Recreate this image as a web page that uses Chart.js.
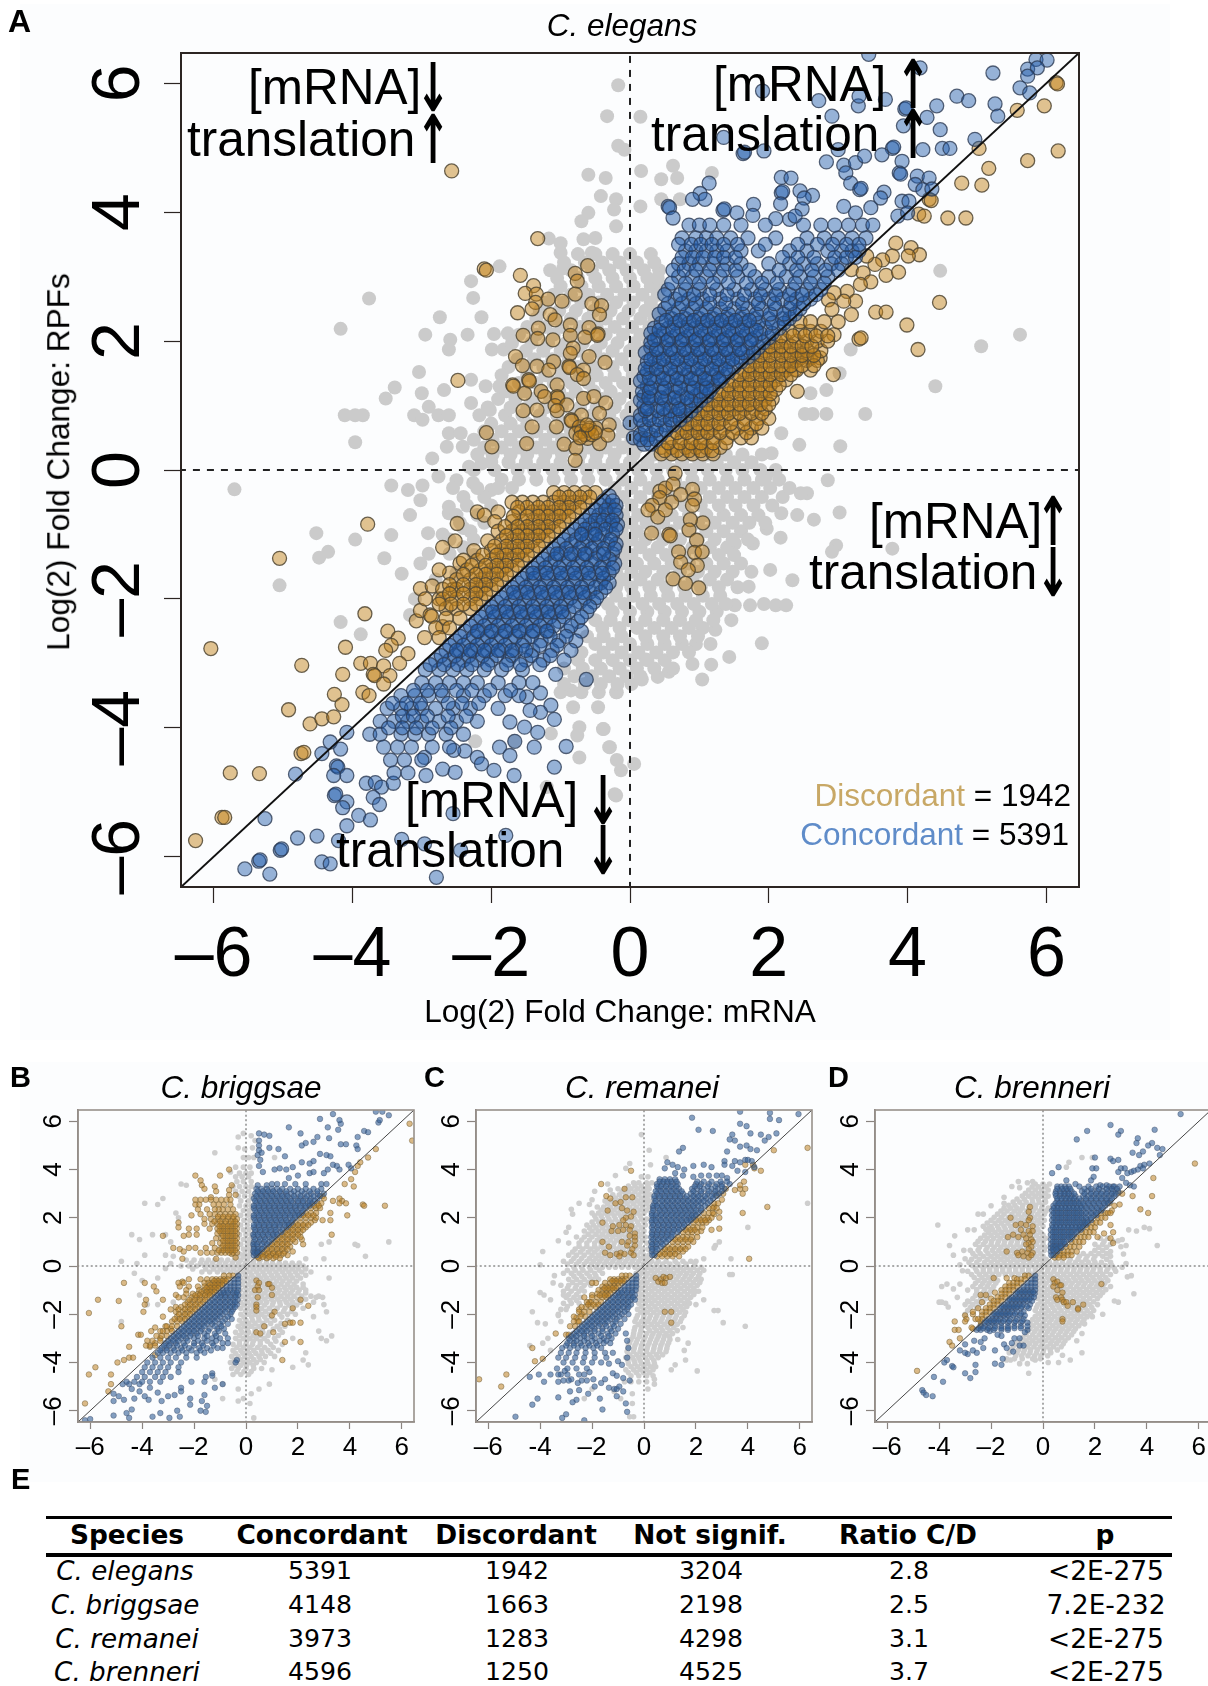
<!DOCTYPE html>
<html><head><meta charset="utf-8">
<script src="https://cdn.jsdelivr.net/npm/chart.js@4"></script>
<style>
html,body{margin:0;padding:0;background:#fff;width:1208px;height:1686px;overflow:hidden;position:relative}
canvas{position:absolute}
.t{position:absolute;white-space:nowrap;font-family:"Liberation Sans",Arial,sans-serif;color:#000}
.bg{position:absolute;background:#fcfdfe}
</style></head><body>
<div class="bg" style="left:20px;top:4px;width:1150px;height:1036px"></div>
<div class="bg" style="left:20px;top:1062px;width:1188px;height:420px"></div>
<script>
// ---------- table / axis values ----------
const species=["C. elegans","C. briggsae","C. remanei","C. brenneri"];
const concordant=[5391,4148,3973,4596];
const discordant=[1942,1663,1283,1250];
const notSignif=[3204,2198,4298,4525];
const ratioCD=["2.8","2.5","3.1","3.7"];
const pValues=["<2E-275","7.2E-232","<2E-275","<2E-275"];
const tableHeaders=["Species","Concordant","Discordant","Not signif.","Ratio C/D","p"];
const tickValues=[-6,-4,-2,0,2,4,6];
const tickLabelsA=["–6","–4","–2","0","2","4","6"];
const tickLabelsSmall=["–6","-4","–2","0","2","4","6"];
const diagonalEnds=[-6.5,6.5];
const axisZero=[0,0];

// ---------- Panel A: C. elegans (loose points: x,y,x,y...; rows: [y, x, x, ...]) ----------
const elegansGrayLoose=[-.17,5.97,-.33,5.49,-.17,5.03,-.08,4.97,-.6,4.58,-.35,4.53,-.42,4.25,-.2,4.2,-.23,4.04,-.6,3.99,-.7,3.86,-.2,3.78,-1.17,3.59,-1,3.52,-1,3.37,-.67,3.58,-.5,3.6,-.55,3.37,-.96,3.13,-1.88,3.16,-2.29,2.93,-2.26,2.67,-3.76,2.66,-4.17,2.19,-2.74,2.37,-2.14,2.37,-2.95,2.1,-2.34,2.1,-1.96,2.11,-1.76,2.12,-2.59,2.02,-2.61,1.87,-1.99,1.87,-1.82,1.87,-3.04,1.52,-3.39,1.28,-3.52,1.11,-3,1.19,-2.68,1.24,-2.29,1.4,-2.08,1.3,-1.88,1.3,-4.11,.85,-3.96,.85,-3.85,.85,-3.96,.43,-3.11,.85,-2.99,.78,-2.9,.98,-2.76,.85,-2.61,.85,-2.29,1.04,-2.02,.93,-2.17,.85,-2.61,.57,-2.44,.57,-2.85,.18,-2.64,.36,-2.41,.36,-2.14,.1,-2.32,.05,-3.44,-.24,-3.2,-.31,-2.99,-.24,-5.7,-.3,-2.76,-.1,-2.5,-.16,-2.26,-.2,-2,-.31,-3.02,-.47,-2.61,-.57,
3.02,-.66,2.65,-.77,2.41,-.7,2.18,-.67,1.97,-.91,2.17,-1.05,1.77,-1.14,1.51,-1.14,2.97,-1.17,2.91,-1.27,3.78,-1.22,2.02,-1.55,2.34,-1.71,1.71,-1.81,1.51,-2.1,1.73,-2.1,1.93,-2.08,2.1,-2.1,2.25,-2.1,1.46,-2.33,1.23,-2.48,1.9,-2.69,1.16,-2.7,1.43,-2.9,1.17,-3.02,.9,-3.01,1.04,-3.25,.56,-3.13,.4,-3.21,.17,-3.25,.23,-2.94,-.19,-3.45,-.39,-4.02,-.3,-4.3,-.19,-4.5,.06,-4.56,-.13,-4.66,-.22,-5.03,
-4.52,-.98,-3.96,-1.08,-4.35,-1.27,-4.48,-1.36,-5.05,-1.79,-3.44,-1.01,-3.54,-1.37,-3.29,-1.61,-3.17,-.7,-3.02,-1.45,-2.91,-.98,-2.61,-.67,-4.17,-2.36,-3.88,-2.55,-3.17,-2.25,-.2,-3.45,-.46,-3.68,-.82,-3.68,-.85,-3.42,-.38,-4.02,-.73,-3.99,-.76,-4.12,-.29,-4.3,-1.14,-4.09,-2.23,-4.21,-1.67,-4.2,-.73,-4.46,-.2,-5.05,-1.2,-4.92,
.15,5.48,.16,4.64,.62,4.72,.68,4.53,.45,4.51,1.18,4.61,.15,4.09,.45,4.2,.72,4.2,4.47,3.09,5.62,2.1,5.06,1.92,4.4,1.3,3.18,1.87,3.02,1.5,2.83,1.24,2.6,1.19,3.39,.87,2.83,.87,2.63,.87,2.52,.87,3.03,.37,2.44,.39,2.18,.57,2.04,.26,2.85,-.16,1.96,-.1,2.55,-.36,2.46,-.36,-2.7,-1,-2.4,-.9,-2.9,-1.3,-2.6,-1.3,-2.8,-1.7,-2.5,-1.6,-3.1,-2];
const elegansGrayRows=[
[3.35,-.75,-.5,-.25,0,.3],[3.1,-1.15,-.85,-.55,-.3,-.05,.2,.42],[2.85,-1,-.7,-.45,-.2,.05,.3,.45],[2.6,-1.2,-.95,-.7,-.45,-.2,.05,.3],[2.35,-1.35,-1.1,-.85,-.6,-.35,-.1,.15,.35],[2.1,-1.6,-1.35,-1.1,-.85,-.6,-.35,-.1,.15,.3],[1.85,-1.5,-1.25,-1,-.75,-.5,-.25,0,.2],[1.6,-1.75,-1.5,-1.25,-1,-.75,-.5,-.25,0,.15],[1.35,-1.6,-1.35,-1.1,-.85,-.6,-.35,-.1,.1],[1.1,-1.9,-1.65,-1.4,-1.15,-.9,-.65,-.4,-.15,.1],[.85,-1.8,-1.55,-1.3,-1.05,-.8,-.55,-.3,-.05,.12],[.6,-2.1,-1.85,-1.6,-1.35,-1.1,-.85,-.6,-.35,-.1,.12],[.35,-2.1,-1.85,-1.6,-1.35,-1.1,-.85,-.6,-.35,-.1,.1],
[.12,-2,-1.75,-1.5,-1.25,-1,-.75,-.5,-.25,0,.25,.5,.75,1,1.25,1.5,1.75],[-.15,-1.85,-1.6,-1.35,-1.1,-.85,-.6,-.35,-.1,.15,.4,.65,.9,1.15,1.4,1.65,1.9,2.15],[-.42,-2.4,-2.1,-.1,.15,.4,.65,.9,1.15,1.4,1.65,1.9,2.2],[-.7,-2.5,-2.2,-.1,.12,.35,.6,.85,1.1,1.35,1.6,1.85],[-.95,-2.3,-.12,.1,.35,.6,.85,1.1,1.35,1.6],[-1.2,-2.4,-.1,.15,.4,.65,.9,1.15,1.4],[-1.45,-.12,.1,.35,.6,.85,1.1,1.35,1.6],[-1.7,-.1,.15,.4,.65,.9,1.15,1.4],[-1.95,-.2,.05,.3,.55,.8,1.05,1.3],[-2.2,-.25,0,.25,.5,.75,1,1.25],[-2.45,-.4,-.15,.1,.35,.6,.85,1.05],[-2.7,-.5,-.25,0,.25,.5,.75,.95],[-2.95,-.75,-.5,-.25,0,.25,.5],[-3.2,-.8,-.55,-.3,-.05,.15],[-3.45,-1,-.7,-.45],
[3.22,-.95,-.65,-.4,-.15,.1,.35],[2.98,-1.05,-.75,-.5,-.25,0,.25,.4],[2.72,-1.1,-.85,-.6,-.33,-.08,.18,.4],[2.47,-1.3,-1.02,-.78,-.52,-.28,-.02,.22,.42],[2.22,-1.48,-1.22,-.98,-.72,-.48,-.22,.03,.28],[1.97,-1.7,-1.42,-1.18,-.92,-.68,-.42,-.18,.07,.27],[1.72,-1.62,-1.38,-1.12,-.88,-.62,-.38,-.12,.1],[1.47,-1.85,-1.48,-1.22,-.98,-.72,-.48,-.22,.04],[1.22,-1.78,-1.52,-1.28,-1.02,-.78,-.52,-.28,-.02],[.97,-2.05,-1.72,-1.48,-1.22,-.98,-.72,-.48,-.22,.02],[.72,-2,-1.72,-1.48,-1.22,-.98,-.72,-.48,-.22,.02],[.47,-2.25,-1.98,-1.72,-1.48,-1.22,-.98,-.72,-.48,-.22,.02],[.24,-2.2,-1.98,-1.72,-1.48,-1.22,-.98,-.72,-.48,-.22,.05,.35,.62,.88,1.12,1.38,1.62,1.9],[0,-2.25,-1.95,-1.62,-1.38,-1.12,-.88,-.62,-.38,-.12,.12,.38,.62,.88,1.12,1.38,1.62,1.88,2.1],[-.28,-2.55,-2.2,-1.9,-1.7,-.22,.02,.28,.52,.78,1.02,1.28,1.52,1.78,2.02,2.3],[-.55,-2.35,-2,-.2,.02,.28,.52,.78,1.02,1.28,1.52,1.78,2.05],[-.82,-2.45,-2.1,-.2,.02,.24,.48,.72,.98,1.22,1.48,1.72,1.95],[-1.08,-2.6,-2.25,-.15,.02,.22,.48,.72,.98,1.22,1.48,1.7],[-1.32,-2.25,-.12,.02,.28,.52,.78,1.02,1.28,1.5],[-1.58,-.2,.02,.22,.48,.72,.98,1.22,1.48,1.75],[-1.82,-.2,.02,.28,.52,.78,1.02,1.28,1.55],[-2.08,-.32,-.08,.18,.42,.68,.92,1.18,1.38],[-2.33,-.5,-.28,-.02,.22,.48,.72,.95,1.2],[-2.58,-.62,-.38,-.12,.22,.48,.72,.98],[-2.83,-.7,-.38,-.12,.12,.38,.62,.85],[-3.08,-.95,-.68,-.42,-.15,.1,.35,.62],[-3.32,-.95,-.65,-.42,-.18,.02]];
const elegansOrangeLoose=[-2.57,4.64,-1.33,3.59,-2.1,3.12,-2.07,3.1,-.61,3.17,-.79,3.05,-1.58,3.02,-.76,2.93,-1.39,2.86,-1.51,2.74,-1.35,2.73,-.79,2.73,-1.18,2.65,-.98,2.62,-1.36,2.6,-.55,2.58,-.41,2.55,-1.41,2.5,-1.62,2.44,-.44,2.41,-1.15,2.41,-1.08,2.33,-.86,2.25,-1.32,2.2,-.59,2.21,-1.54,2.09,-.46,2.11,-.47,2.09,-1.33,2.04,-1.11,2.02,-.86,2.09,-.65,2.06,-.82,1.89,-.86,1.81,-1.65,1.76,-.59,1.76,-1.1,1.68,-.36,1.67,-1.55,1.62,-1.34,1.61,-1.17,1.55,-.88,1.61,-.87,1.59,-.67,1.55,-.76,1.48,-.67,1.42,-1.46,1.4,-1.45,1.38,-2.48,1.39,-1.69,1.32,-1.68,1.3,-1.05,1.32,-1.52,1.19,-1.28,1.22,-1.05,1.14,-1.04,1.12,-1.23,1.14,-.67,1.11,-.52,1.14,-.35,1.04,-1.08,1,-.91,1.01,-1.54,.92,-1.34,.93,-1.05,.92,-.44,.88,-.7,.85,-.85,.78,-.84,.76,-.3,.7,-1.41,.67,-1.06,.67,-.73,.67,-.58,.65,-.49,.65,-.78,.57,-.61,.49,-.44,.41,-.32,.54,-2.07,.58,-1.49,.41,-1.99,.36,-.95,.4,-.78,.34,-.79,.15,-.7,.6,-.65,.55,-.6,.62,-.55,.55,-.5,.58,-.72,.5,-.62,.7,
.65,-.05,.9,-.3,.43,-.33,.51,-.28,.62,-.22,.73,-.38,.43,-.43,.32,-.55,.6,-.5,.93,-.45,.26,-.62,.4,-.73,.51,-.62,.9,-.55,1.05,-.82,.87,-.77,.85,-.93,.31,-.98,.56,-1,.58,-1.02,.96,-1.09,.7,-1.27,.93,-1.28,1.04,-1.27,.73,-1.43,.97,-1.48,.84,-1.55,.62,-1.69,.8,-1.76,.99,-1.83,
6.17,4.95,5.73,4.8,5.97,5.65,6.14,6.01,6.16,5.99,5.58,5.58,5.03,4.99,5.17,4.68,4.78,4.45,5.07,4.42,4.31,4.2,4.34,4.18,4.16,3.97,4.24,3.94,4.58,3.91,4.84,3.91,3.83,3.52,4.05,3.45,4.17,3.34,4.01,3.32,3.78,3.32,3.64,3.26,3.53,3.19,3.41,3.32,3.19,3.11,3.36,3.06,3.69,3.02,3.87,3.07,3.47,2.92,3.32,2.88,3.13,2.77,3.25,2.62,3.08,2.62,2.94,2.75,2.86,2.64,2.91,2.49,3.19,2.41,3.54,2.45,3.69,2.45,4.46,2.6,3.99,2.25,3.3,2.03,3.33,2.05,4.15,1.87,2.94,2.1,2.93,1.48,2.41,1.22,2.38,1.56,2.46,1.74,2.6,1.74,2.74,1.74,
-3.78,-.84,-5.05,-1.37,-2.49,-.83,-6.04,-2.77,-4.73,-3.03,-4.1,-2.75,-4.14,-3.17,-3.82,-2.23,-3.02,-1.84,-3.49,-2.5,-3.34,-2.61,-3.44,-2.72,-3.52,-2.8,-3.2,-2.85,-3.08,-2.34,-3.02,-2.18,-2.88,-2.25,-2.86,-2.27,-2.7,-2.43,-2.96,-2.6,-3.88,-3,-3.74,-3,-3.55,-3.04,-3.7,-3.17,-3.68,-3.19,-3.46,-3.19,-3.32,-3,-3.85,-3.45,-4.26,-3.48,-4.15,-3.64,-3.76,-3.5,-3.55,-3.32,-4.92,-3.72,-4.61,-3.94,-4.44,-3.86,-4.27,-3.83,-4.74,-4.4,-4.7,-4.38,-5.76,-4.7,-5.34,-4.71,-5.88,-5.39,-5.84,-5.39,-6.26,-5.75,-2.7,-1.2,-2.52,-1.1,-2.2,-.65,-2.1,-.7,-2.45,-1.45,-2.6,-1.6,-2.75,-1.55,-2.85,-1.8,-2.55,-1.85,-2.75,-2,-2.95,-2];
const elegansOrangeRows=[
[.25,.45,.6,.75,.9,1.05,1.2],[.35,.45,.6,.8,.95,1.1,1.3],[.5,.6,.75,.9,1.05,1.2,1.4,1.6,1.75],[.65,.75,.9,1.05,1.2,1.35,1.55,1.75,1.9],[.8,.9,1.05,1.2,1.35,1.5,1.65,1.85,2],[.95,1.05,1.2,1.35,1.5,1.65,1.8,1.95],[1.1,1.2,1.35,1.5,1.65,1.8,1.95,2.05],[1.25,1.35,1.5,1.65,1.8,1.95,2.1],[1.4,1.5,1.65,1.8,1.95,2.1,2.25],[1.55,1.65,1.8,1.95,2.1,2.25,2.4,2.6],[1.7,1.8,1.95,2.1,2.25,2.4,2.55,2.7],[1.85,1.95,2.1,2.25,2.4,2.55,2.75],[2,2.1,2.25,2.4,2.55,2.7,2.85],[2.15,2.3,2.45,2.6,2.75],[2.3,2.45,2.6,2.8,3],
[-.35,-.5,-.65,-.8,-.95,-1.1],[-.5,-.65,-.8,-.95,-1.1,-1.25,-1.4,-1.55,-1.7],[-.65,-.8,-.95,-1.1,-1.25,-1.4,-1.6,-1.9],[-.8,-.95,-1.1,-1.25,-1.4,-1.55,-1.7,-1.95],[-.95,-1.1,-1.25,-1.4,-1.55,-1.7,-1.9],[-1.1,-1.25,-1.4,-1.55,-1.7,-1.85,-2.05],[-1.25,-1.4,-1.55,-1.7,-1.85,-2,-2.25],[-1.4,-1.55,-1.7,-1.85,-2,-2.2,-2.4],[-1.55,-1.7,-1.85,-2,-2.15,-2.35],[-1.7,-1.85,-2,-2.15,-2.3,-2.5],[-1.85,-2,-2.15,-2.3,-2.5,-2.7],[-2,-2.15,-2.3,-2.5,-2.7],[-2.15,-2.3,-2.5,-2.65],[-2.3,-2.45,-2.65],[-2.45,-2.6,-2.8],[-2.6,-2.75],
[.3,.5,.68,.85,1.02,1.18],[.42,.55,.72,.88,1.02,1.2,1.38],[.58,.68,.82,.98,1.12,1.3,1.48,1.68],[.72,.82,.98,1.12,1.28,1.45,1.65,1.82],[.88,.98,1.12,1.28,1.42,1.58,1.75,1.9],[1.02,1.12,1.28,1.42,1.58,1.72,1.88,2],[1.18,1.28,1.42,1.58,1.72,1.88,2.02],[1.32,1.42,1.58,1.72,1.88,2.02,2.15],[1.48,1.58,1.72,1.88,2.02,2.18,2.32],[1.62,1.72,1.88,2.02,2.18,2.32,2.48,2.65],[1.78,1.88,2.02,2.18,2.32,2.48,2.65],[1.92,2.02,2.18,2.32,2.48,2.62],[2.08,2.18,2.35,2.52,2.68,2.85],
[-.42,-.58,-.72,-.88,-1.02],[-.58,-.72,-.88,-1.02,-1.18,-1.32,-1.48,-1.62],[-.72,-.88,-1.02,-1.18,-1.32,-1.48,-1.68],[-.88,-1.02,-1.18,-1.32,-1.48,-1.62,-1.8],[-1.02,-1.18,-1.32,-1.48,-1.62,-1.78],[-1.18,-1.32,-1.48,-1.62,-1.78,-1.95],[-1.32,-1.48,-1.62,-1.78,-1.92,-2.12],[-1.48,-1.62,-1.78,-1.92,-2.08,-2.28],[-1.62,-1.78,-1.92,-2.08,-2.22,-2.4],[-1.78,-1.92,-2.08,-2.22,-2.4,-2.6],[-1.92,-2.08,-2.22,-2.4,-2.6],[-2.08,-2.22,-2.4,-2.58,-2.75]];
const elegansBlueLoose=[3.44,6.45,4.18,6.24,5.23,6.16,5.85,6.37,6.01,6.36,5.73,6.22,5.87,6.24,5.73,6.11,5.62,5.93,5.76,5.85,4.71,5.8,4.88,5.73,5.26,5.68,5.3,5.49,4.42,5.65,3.96,5.6,3.98,5.62,3.68,5.75,3.29,5.65,3.3,5.8,2.72,5.73,1.91,5.88,2.91,5.49,4.28,5.47,3.94,5.34,4.47,5.28,4.97,5.13,4.5,4.99,4.61,4.99,4.22,4.97,3.78,4.99,3.8,5.01,3.63,4.89,3.92,4.79,1.35,5.16,1.63,4.91,1.65,4.93,1.93,4.95,3,4.97,2.83,4.78,3.08,4.73,3.25,4.77,3.38,4.87,3.11,4.61,3.88,4.61,3.9,4.59,4.14,4.56,4.31,4.53,2.18,4.54,2.32,4.53,3.18,4.45,3.31,4.35,3.33,4.37,4.11,4.43,4.22,4.35,4.35,4.36,1.14,4.45,2.18,4.3,2.2,4.32,2.45,4.33,2.63,4.26,1.01,4.29,1.08,4.2,.9,4.2,3.66,4.31,3.61,4.22,3.92,4.17,4.02,4.17,.55,4.09,.57,4.07,2.17,4.13,2.51,4.22,2.48,4.05,1.78,4.12,1.34,4.03,1.36,4.05,1.54,3.99,1.77,3.95,.62,3.91,2.1,3.9,2.3,3.89,2.38,3.94,3.08,4.09,3.25,3.99,3.47,4.07,3.86,3.94,4,3.99,0,.73,.05,.5,
-.63,-3.25,-1.07,-3.17,-1.29,-3.46,-1.49,-3.52,-1.14,-3.65,-1.29,-3.76,-1.09,-3.87,-1.44,-3.73,-1.73,-3.91,-1.52,-3.99,-1.33,-4.07,-.92,-4.29,-1.38,-4.3,-1.66,-4.21,-1.88,-4.3,-1.73,-4.43,-2.38,-4.36,-2.54,-4.35,-2.2,-4.46,-2.14,-4.56,-1.09,-4.61,-1.96,-4.66,-2.7,-4.64,-2.52,-4.69,-2.94,-4.74,-1.67,-4.74,-2.96,-4.46,-4.08,-4.07,-4.17,-4.33,-4.32,-4.22,-4.44,-4.4,-4.23,-4.59,-4.21,-4.61,-4.27,-4.74,-4.08,-4.74,-4.82,-4.72,-4.26,-5.05,-4.24,-5.03,-4.08,-5.15,-4.14,-5.24,-3.8,-4.86,-3.67,-4.85,-3.58,-4.92,-3.7,-5.08,-3.61,-5.19,-3.41,-4.86,-2.55,-5.33,-3.91,-5.36,-3.74,-5.43,-5.26,-5.41,-4.08,-5.52,-4.79,-5.71,-4.51,-5.68,-4.2,-5.75,-3.29,-5.73,-2.96,-5.8,-2.44,-5.9,-1.79,-5.67,-5.04,-5.9,-5.02,-5.88,-5.35,-6.07,-5.33,-6.05,-5.55,-6.19,-4.44,-6.08,-4.32,-6.11,-5.19,-6.27,-2.79,-6.32];
const elegansBlueRows=[
[.4,.2,.3],[.55,.15,.3,.45],[.7,.2,.35,.5,.62],[.85,.15,.3,.5,.65,.8],[1,.2,.4,.6,.8,.95],[1.15,.2,.35,.55,.75,.95,1.1],[1.3,.25,.45,.65,.85,1.05,1.2],[1.45,.2,.4,.6,.8,1,1.2,1.35],[1.6,.3,.5,.7,.9,1.1,1.3,1.5],[1.75,.35,.55,.75,.95,1.15,1.35,1.55,1.7],[1.9,.3,.5,.7,.9,1.1,1.3,1.5,1.7,1.85],[2.05,.4,.6,.8,1,1.2,1.4,1.6,1.8,2],[2.2,.35,.55,.75,.95,1.15,1.35,1.55,1.75,1.95,2.15],[2.35,.6,.8,1,1.2,1.4,1.6,1.8,2,2.2,2.3],[2.5,.5,.7,.9,1.1,1.3,1.5,1.7,1.9,2.1,2.3,2.45],[2.65,.65,.85,1.05,1.3,1.55,1.8,2,2.2,2.4,2.6],[2.8,.55,.8,1,1.25,1.5,1.75,1.95,2.15,2.35,2.55,2.75],[3,.7,.9,1.1,1.3,1.55,1.8,2,2.25,2.45,2.65,2.85],[3.2,.7,.85,1,1.2,1.4,1.6,2,2.3,2.5,2.7,2.9,3.05],[3.4,.8,.95,1.1,1.25,1.4,1.6,1.85,2.3,2.55,2.85,3.05,3.2,3.3],[3.6,.75,.95,1.1,1.25,1.45,1.7,2.1,2.55,2.8,3,3.2,3.4],[3.8,.85,1,1.15,1.35,1.6,1.95,2.5,2.75,2.95,3.15,3.35,3.5],
[.47,.15,.25,.38],[.62,.22,.38,.52],[.78,.15,.28,.42,.58,.72],[.92,.22,.4,.58,.72,.88],[1.08,.15,.3,.5,.7,.88,1.02],[1.22,.18,.28,.48,.65,.88,1.02,1.15],[1.38,.15,.35,.55,.75,.95,1.12,1.3],[1.52,.25,.45,.65,.85,1.05,1.25,1.42],[1.68,.25,.42,.62,.82,1.02,1.22,1.42,1.6],[1.82,.22,.42,.62,.82,1.02,1.22,1.42,1.62,1.78],[1.98,.3,.52,.72,.92,1.12,1.32,1.52,1.72,1.92],[2.12,.3,.48,.68,.88,1.08,1.28,1.48,1.68,1.88,2.05],[2.28,.45,.65,.85,1.05,1.25,1.45,1.65,1.85,2.05,2.22],[2.42,.42,.62,.82,1.02,1.22,1.42,1.62,1.82,2.02,2.22,2.38],[2.58,.55,.75,.95,1.15,1.38,1.62,1.85,2.08,2.32,2.5],[2.72,.5,.72,.92,1.15,1.4,1.65,1.88,2.1,2.3,2.48,2.68],[2.9,.6,.8,1,1.2,1.42,1.68,1.9,2.12,2.38,2.6,2.8],[3.1,.62,.78,.95,1.15,1.35,1.52,1.72,2.15,2.4,2.62,2.82,3],[3.3,.75,.9,1.05,1.22,1.35,1.52,2.2,2.42,2.65,2.95,3.12,3.25],[3.5,.7,.88,1.02,1.18,1.35,1.55,1.95,2.42,2.7,2.92,3.12,3.3],
[.95,.25,.48,.7],[1.12,.27,.45,.65,.82],[1.27,.3,.5,.72,.92,1.1],[1.42,.28,.48,.68,.88,1.08,1.28],[1.57,.22,.38,.58,.78,.98,1.18,1.38],[1.72,.3,.48,.68,.88,1.08,1.28,1.48],[1.87,.38,.58,.78,.98,1.18,1.38,1.58],[2.02,.35,.55,.75,.95,1.15,1.35,1.55,1.75],[2.17,.42,.62,.82,1.02,1.22,1.42,1.62,1.82],[2.32,.52,.72,.92,1.12,1.32,1.52,1.72],
[-.4,-.3],[-.55,-.42,-.3,-.2],[-.7,-.58,-.45,-.32,-.2],[-.85,-.72,-.58,-.42,-.28,-.18],[-1,-.88,-.7,-.55,-.4,-.25],[-1.15,-1.02,-.85,-.68,-.5,-.32,-.2],[-1.3,-1.18,-1,-.8,-.62,-.45,-.25],[-1.45,-1.32,-1.15,-.95,-.75,-.55,-.38,-.22],[-1.6,-1.48,-1.3,-1.1,-.9,-.7,-.5,-.3],[-1.75,-1.62,-1.42,-1.22,-1.02,-.82,-.62,-.42,-.3],[-1.9,-1.78,-1.58,-1.38,-1.18,-.98,-.78,-.58,-.42],[-2.05,-1.92,-1.72,-1.52,-1.32,-1.12,-.92,-.72,-.52],[-2.2,-2.08,-1.88,-1.68,-1.48,-1.28,-1.08,-.88,-.62],[-2.35,-2.22,-2.02,-1.82,-1.62,-1.42,-1.22,-1.02,-.75],[-2.5,-2.38,-2.18,-1.98,-1.78,-1.58,-1.38,-1.18,-.9,-.7],[-2.65,-2.52,-2.32,-2.12,-1.92,-1.72,-1.52,-1.28,-1.02,-.78],[-2.8,-2.65,-2.45,-2.25,-2.05,-1.85,-1.65,-1.4,-1.12,-.85],[-2.95,-2.8,-2.6,-2.4,-2.2,-2,-1.75,-1.5,-1.25,-.95],[-3.1,-2.95,-2.75,-2.55,-2.35,-2.1,-1.85,-1.55],
[-.48,-.38,-.25],[-.62,-.5,-.35,-.22],[-.78,-.65,-.5,-.38,-.25],[-.92,-.8,-.65,-.5,-.35,-.2],[-1.08,-.95,-.78,-.62,-.45,-.28],[-1.22,-1.1,-.92,-.72,-.55,-.38,-.22],[-1.38,-1.25,-1.08,-.88,-.68,-.5,-.3],[-1.52,-1.4,-1.22,-1.02,-.82,-.62,-.42,-.25],[-1.68,-1.55,-1.38,-1.18,-.98,-.78,-.58,-.38],[-1.82,-1.7,-1.5,-1.3,-1.1,-.9,-.7,-.5,-.35],[-1.98,-1.85,-1.65,-1.45,-1.25,-1.05,-.85,-.65,-.48],[-2.12,-2,-1.8,-1.6,-1.4,-1.2,-1,-.8,-.58],[-2.28,-2.15,-1.95,-1.75,-1.55,-1.35,-1.15,-.95,-.7],[-2.42,-2.3,-2.1,-1.9,-1.7,-1.5,-1.3,-1.1,-.85],[-2.58,-2.45,-2.25,-2.05,-1.85,-1.65,-1.42,-1.15,-.92],[-2.72,-2.6,-2.4,-2.2,-2,-1.8,-1.55,-1.3,-1.05],[-2.88,-2.72,-2.52,-2.32,-2.12,-1.92,-1.7,-1.42,-1.15],[-3.02,-2.88,-2.68,-2.48,-2.28,-2.05,-1.78,-1.58,-1.3],
[-1,-.7,-.5],[-1.3,-1.05,-.85,-.65,-.38],[-1.6,-1.4,-1.2,-1,-.8,-.6,-.4],[-1.9,-1.68,-1.48,-1.28,-1.08,-.88,-.68],[-2.2,-1.98,-1.78,-1.58,-1.38,-1.18,-.98],[-2.5,-2.2,-2,-1.8,-1.6,-1.4,-1.2],[-2.8,-2.5,-2.3,-2.1,-1.9,-1.7,-1.5],
[-3.3,-3,-2.8,-2.6,-2.4,-2.2,-1.9,-1.6,-1.4],[-3.5,-3.3,-3.1,-2.9,-2.7,-2.4,-2.1,-1.8,-1.6],[-3.7,-3.5,-3.3,-3.15,-3,-2.8,-2.55,-2.3,-1.9],[-3.9,-3.6,-3.4,-3.2,-3,-2.75,-2.5,-2.2],[-4.1,-3.75,-3.6,-3.3,-3.1,-2.9,-2.65,-2.4],[-4.3,-3.55,-3.35,-3.15,-2.85,-2.6],[-4.5,-3.45,-3.25,-3],[-4.7,-3.4,-3.2],[-3.42,-3.12,-2.92,-2.72,-2.5,-2.28,-2.02,-1.72],[-3.62,-3.42,-3.22,-3.02,-2.62,-2.42,-2.18],[-3.82,-3.28,-3.12,-2.92,-2.62,-2.36],[-4,-3.48,-3.28,-3.08,-2.85,-2.58]];

// ---------- Panel B: C. briggsae ----------
const briggsaeGrayLoose=[-.3,5.35,-.1,5.5,.2,5.4,.35,5.2,-.3,4.9,-.05,4.85,.25,4.9,-1.2,4.7,1.1,4.5,-.6,3.9,-.4,4.1,-2.5,3.4,-2.3,3.35,-3.2,2.8,-3.9,2.6,-3.4,2.55,-2.7,2.2,-2.6,2,-4.4,1.3,-4.1,1.1,-3.6,1.3,-3.1,1.3,-2.9,1,-3.9,.45,-3.1,.45,-2.8,.4,-4.8,.2,-4.3,-.3,-4.2,.1,-4,-.6,-3.4,-.5,-3.1,-.1,-2.9,.1,-4.1,-1.2,-3.8,-1.6,-3.4,-1.6,-4.8,-2.3,-2.8,-1.5,5.5,1,4.6,.4,4.2,.9,4.3,.85,3.2,1,2.9,.9,3,.3,2.3,.3,3.2,-.5,3.3,-2.9,3.1,-3.1,2.9,-3,2.8,-2.7,2.6,-2.1,3,-1.6,3.1,-1.9,2.7,-1.3,2.95,-1.3,2.3,-3.6,2.2,-3.9,2.4,-4.1,1.8,-4.2,1,-4.3,.9,-4.9,.5,-5.1,.2,-5.3,-.3,-5.6,-.1,-5.5,.15,-5.7,.3,-6.3,-.9,-5.5,-.9,-4.9,-.3,-5.1,-1.2,-4.7];
const briggsaeGrayRows=[[4.5,-.1,.1,.3],[4.1,-.1,.15],[3.7,-.4,-.15,.1],[3.3,-.5,-.25,0,.2],[2.9,-.3,-.05,.2],[2.5,-.25,0,.2],[2.1,-.2,.05,.2],[1.7,-.2,.05],[1.3,-.25,0,.2],[.9,-.2,.05,.2],[.5,-.25,-.05,.15],[.25,-2.3,-2,-1.7,-1.45,-1.2,-.95,-.7,-.45,-.2,.05,.3,.55,.8],[0,-2.5,-2.2,-1.9,-1.6,-1.35,-1.1,-.85,-.6,-.35,-.1,.15,.4,.65,.9,1.15,1.4,1.65,1.9,2.2],[-.25,-1.7,-1.4,-1.1,-.85,-.6,-.35,-.1,.15,.4,.65,.9,1.15,1.4,1.65,1.9,2.15,2.5],[-.5,-.2,.05,.3,.55,.8,1.05,1.3,1.55,1.8,2.1],[-.75,-.15,.1,.35,.6,.85,1.1,1.35,1.6,1.85,2.2],[-1,-.2,.05,.3,.55,.8,1.05,1.3,1.55,1.8,2.05,2.3],[-1.25,-.15,.1,.35,.6,.85,1.1,1.35,1.6,1.85,2.15,2.5,2.8],[-1.5,-.2,.05,.3,.55,.8,1.05,1.3,1.55,1.8,2.1,2.6],[-1.75,-.2,.05,.3,.6,.9,1.2,1.5,1.8,2.2],[-2,-.2,.1,.35,.6,.9,1.3,1.6,1.9],[-2.25,-.25,0,.25,.5,.8,1.1,1.6],[-2.5,-.3,-.05,.2,.5,.75,1.2,1.5],[-2.75,-.4,-.15,.1,.35,.65,.9,1.4],[-3,-.4,-.1,.15,.4,.7,1.1,1.8],[-3.25,-.5,-.25,0,.25,.55,.95,1.4],[-3.5,-.5,-.2,.05,.3,.6,.85,1.25],[-3.75,-.55,-.3,-.05,.2,.5,.75,1.1],[-4,-.6,-.35,-.1,.15,.4,.7],[-4.25,-.55,-.3,0,.3,.6],[-4.5,-.5,-.2,.1],
[3.85,-.25,0,.2],[3.5,-.35,-.1,.2],[3.1,-.4,-.15,.1],[2.7,-.2,.1],[2.3,-.1,.12],[1.9,-.08,.15],[1.5,-.1,.12],[1.1,-.1,.12],[.7,-.1,.1],[.38,-.35,-.1,.12,.42,.68],[.12,-2.1,-1.75,-1.52,-1.28,-1.02,-.78,-.52,-.28,-.02,.28,.52,.78,1.02,1.28,1.52,1.78,2.05],[-.12,-2.05,-1.55,-1.25,-.98,-.72,-.48,-.22,.02,.28,.52,.78,1.02,1.28,1.52,1.78,2.02,2.3],[-.38,-.25,-.02,.22,.48,.72,.98,1.22,1.48,1.72,1.98,2.3],[-.62,-.08,.18,.42,.68,.92,1.18,1.42,1.68,1.95],[-.88,-.02,.22,.48,.72,.98,1.22,1.48,1.72,1.95,2.2],[-1.12,-.02,.22,.48,.72,.98,1.22,1.48,1.72,2,2.3],[-1.38,-.02,.22,.48,.72,.98,1.22,1.48,1.72,2,2.3],[-1.62,-.08,.18,.42,.72,1.02,1.32,1.65,1.95],[-1.88,-.02,.22,.48,.75,1.05,1.45,1.75],[-2.12,-.08,.22,.48,.72,.98,1.38],[-2.38,-.15,.1,.35,.65,.95,1.35],[-2.62,-.2,.05,.35,.62,1.05,1.3],[-2.88,-.25,.02,.28,.55,.85,1.25],[-3.12,-.25,.02,.28,.55,.82,1.15],[-3.38,-.35,-.1,.15,.45,.72,1.05],[-3.62,-.4,-.12,.12,.38,.62,.95],[-3.88,-.45,-.2,.05,.3,.55],[-4.12,-.45,-.2,.02,.28],[-4.38,-.35,-.08,.2]];
const briggsaeOrangeLoose=[-.65,4,-1,3.75,-1.95,3.75,-1.75,3.55,-.55,3.35,-1.2,3.3,-1.7,3.35,-1.6,3.2,-.65,3.15,-1.15,3.1,-1.35,2.85,-.65,2.95,-.4,2.95,-2.1,2.1,-2.6,1.8,-2.6,1.6,-1.9,1.3,-2.2,1.3,-2.4,1.25,-3.2,1.25,-2.8,.75,-2.55,.7,-2.4,.6,-2.45,.3,-1.15,.3,-.55,.5,-.4,.35,-4.7,-.7,-3.9,-.7,-3.55,-.85,-3.45,-1.05,-2.45,-.65,-2.7,-1.2,-3.2,-1.4,-3.85,-1.4,-5.7,-1.4,-4.9,-1.45,-6.05,-1.95,-3.9,-1.6,-3.95,-1.9,-4.8,-2.5,-3.2,-2.1,-3.1,-2.5,-2.9,-1.8,-3.5,-2.55,-3.65,-2.7,-2.9,-2.6,-4.15,-2.85,-4.05,-2.85,-3.3,-3,-3.5,-3.2,-3.7,-3.35,-4.5,-3.35,-3.5,-3.7,-4.95,-4,-4.7,-3.9,-4.5,-3.8,-4.35,-3.8,-5.8,-4.2,-6.05,-4.5,-5.2,-4.5,-5.2,-4.9,-5.3,-5.2,-6.2,-5.7,
.4,-.6,.5,-.7,.45,-.85,.85,-.75,.9,-.75,.35,-1,.5,-1,1,-1.2,1,-.9,.45,-1.3,.4,-1.6,.4,-1.7,.4,-1.85,2.1,-1.4,1.8,-1.75,2.4,-1.65,1.1,-1.9,1,-2.05,.7,-2.5,.4,-2.75,.55,-2.8,1.05,-2.75,1.5,-2.4,1.7,-2.35,1.8,-2.35,2.1,-2.35,1.5,-3.15,2.1,-3.15,1.4,-3.9,
6.4,5.2,6.3,5.9,5,4.85,4.7,4.5,4.4,4.3,4.3,4.15,4.2,3.9,4.15,3.3,4.05,3.6,3.8,3.4,3.7,2.7,3.6,2.6,3.9,2.1,4.5,2.55,3.85,2.6,4.55,2.5,5.35,2.5,3.6,2.8,3.35,2.7,2.95,2.9,3.25,2.2,3.25,1.9,3.3,1.3,2.65,1.9,2.95,1.9,2.2,.9,2.15,1.1];
const briggsaeOrangeRows=[[2.8,3],[2.6,2.75,2.9],[2.4,2.5,2.7,2.85],[2.2,2.3,2.5,2.7],[2,2.1,2.3,2.5,2.7],[1.8,1.9,2.1,2.3,2.5],[1.6,1.7,1.9,2.1,2.3],[1.4,1.5,1.7,1.9,2.1],[1.2,1.3,1.5,1.7,1.9,2.1],[1,1.1,1.3,1.5,1.7,1.9],[.8,.9,1.1,1.3,1.5,1.7],[.6,.7,.9,1.1,1.3,1.5,1.8],[.45,.55,.75,.95,1.15,1.35,1.6],[.32,.5,.8,1.05,1.3],
[2.5,2.62,2.8],[2.1,2.2,2.4,2.6],[1.7,1.8,2,2.2,2.4],[1.5,1.6,1.8,2,2.2],[1.3,1.4,1.6,1.8,2],[1.1,1.2,1.4,1.6,1.8],[.9,1,1.2,1.4,1.6],[.7,.8,1,1.2,1.4,1.6],[.52,.62,.85,1.05,1.25,1.45],[.38,.45,.65,.9,1.15],
[.55,-.35,-.5,-.65,-.8,-.95,-1.1,-1.3,-1.5,-1.75],[.75,-.35,-.5,-.65,-.8,-.95,-1.2,-1.55,-1.95,-2.2],[.95,-.35,-.5,-.65,-.8,-1,-1.3],[1.15,-.35,-.5,-.65,-.8,-.95,-1.15],[1.35,-.35,-.5,-.65,-.8,-.95,-1.1],[1.55,-.35,-.5,-.65,-.8,-.95,-1.1,-1.4,-1.9,-2.2],[1.75,-.35,-.5,-.65,-.8,-.95,-1.1,-1.3,-1.6],[1.95,-.35,-.5,-.7,-.9,-1.1,-1.35,-1.6],[2.15,-.4,-.6,-.8,-1,-1.2,-1.4,-1.75],[2.35,-.5,-.7,-.9,-1.05,-1.2,-1.5,-1.85],[2.55,-.6,-.85,-1.05,-1.25,-1.8,-1.95],[2.75,-.6,-.75,-.95,-1.15,-1.35,-1.55,-1.75,-1.95],
[.65,-.42,-.58,-.72,-.88,-1.05],[.85,-.42,-.58,-.72,-.88],[1.05,-.42,-.58,-.72,-.88],[1.25,-.42,-.58,-.72,-.88],[1.45,-.42,-.58,-.72,-.88,-1.02],[1.65,-.42,-.58,-.72,-.88,-1.02],[1.85,-.42,-.58,-.78,-1,-1.22],[2.05,-.48,-.68,-.88,-1.08],
[-.4,-.5,-.65,-.85],[-.55,-.7,-.85,-1,-1.15,-1.3,-1.5,-1.75,-2.2],[-.7,-.85,-1,-1.15,-1.3,-1.45,-1.6,-2.4,-2.6],[-.85,-1,-1.15,-1.3,-1.45,-1.6,-1.85,-2.2,-2.55],[-1,-1.15,-1.3,-1.45,-1.6,-1.8,-2.3],[-1.15,-1.3,-1.45,-1.65,-1.85,-2.05,-2.3],[-1.3,-1.5,-1.7,-1.9,-2.1,-2.4,-2.6],[-1.5,-1.65,-1.85,-2.05,-2.25],[-1.7,-1.85,-2.05,-2.25,-2.5,-2.7],[-1.9,-2.05,-2.25,-2.45,-2.7],[-2.1,-2.25,-2.45,-2.65],[-2.3,-2.45,-2.65,-2.85],[-2.5,-2.65,-2.85,-3.05],[-2.7,-3.3,-2.85,-3.05,-3.2],[-2.9,-3.05,-3.25,-3.45],[-3.1,-3.3,-3.6,-3.8],[-3.3,-3.5,-3.7,-3.85],
[-.62,-.78,-.92,-1.08,-1.22],[-.78,-.92,-1.08,-1.22,-1.38],[-.92,-1.08,-1.22,-1.38,-1.52],[-1.08,-1.22,-1.38,-1.52,-1.72],[-1.22,-1.4,-1.58,-1.78,-1.95],[-1.4,-1.58,-1.78,-1.98,-2.18],[-1.6,-1.75,-1.95,-2.15,-2.35],[-1.8,-1.95,-2.15,-2.35,-2.6],[-2,-2.15,-2.35,-2.58],[-2.2,-2.35,-2.55,-2.75]];
const briggsaeBlueLoose=[.5,5.5,.7,5.45,.9,5.4,1.65,5.75,2.1,5.5,.5,5.2,.5,5,.5,4.8,.45,4.6,.6,4.7,.55,4.4,.5,4.15,.65,3.9,.9,4.9,1.25,4.85,1.5,4.55,2.15,5,2.3,5.1,2.6,5.15,2.75,5.35,3.2,5.3,3.65,5.05,3.85,5.05,4.25,5,4.3,5.35,4.55,5.6,4.7,5.55,4.3,4.85,3.65,5.9,3.6,6.05,3.35,6.3,2.85,6.1,3.15,5.75,3.55,5.65,5.1,5.95,5.15,6.05,5,6.4,5.25,6.4,5.5,6.25,2.6,4.35,2.85,4.65,3.1,4.6,3.25,4.55,3.35,4.2,1.8,4.1,2.15,4.3,2.45,4.25,3.5,4.15,3.95,4.2,4.05,4.05,1.1,4,1.3,4.05,1.55,4,1.65,3.65,2,3.75,2.45,3.85,2.6,3.9,3,3.85,3.15,4,3.6,4,.45,3.35,.8,3.35,
-.35,-3.9,-.4,-4,-1.3,-4.45,-1.3,-4.55,-1.55,-4.6,-2.1,-4.8,-1.6,-4.8,-.9,-4.9,-1.2,-5.05,-2.5,-5.05,-2.5,-5.2,-2.75,-5.35,-3,-5.4,-3.25,-5.6,-1.6,-5.35,-2.15,-5.5,-2.15,-5.75,-1.7,-5.6,-1.5,-5.8,-1.75,-6,-1.55,-6.05,-2.65,-6,-3.3,-6.1,-3.6,-6.25,-2.95,-6.3,-2.55,-6.25,-4.4,-5.95,-4.6,-6.1,-4.5,-6.3,-5.1,-6.2,-6.2,-6.4,-6,-6.35,-5.1,-5.3,-4.9,-5.4,-5.1,-5.6,-4.7,-5.55,-4.4,-5.1,-4.3,-5.5,-3.9,-5.4,-3.75,-5.55,-3.4,-5.25,-3.7,-5.05,-4.1,-4.9,-4.5,-4.9,-4.75,-4.9,-4.1,-5.2];
const briggsaeBlueRows=[[3.4,1,1.2,1.5,1.9,2.3,2.9,3.1],[3.2,.4,.6,.8,1,1.2,1.4,1.7,2,2.3,2.6,2.9],[3,.35,.55,.75,.95,1.15,1.35,1.55,1.75,2,2.25,2.5,2.75,3],[2.8,.3,.5,.7,.9,1.1,1.3,1.5,1.7,1.9,2.1,2.3,2.5,2.75],[2.6,.4,.6,.8,1,1.2,1.4,1.6,1.8,2,2.2,2.4,2.55],[2.4,.3,.5,.7,.9,1.1,1.3,1.5,1.7,1.9,2.1,2.3],[2.2,.4,.6,.8,1,1.2,1.4,1.6,1.8,2,2.15],[2,.3,.5,.7,.9,1.1,1.3,1.5,1.7,1.9],[1.8,.4,.6,.8,1,1.2,1.4,1.6,1.75],[1.6,.3,.5,.7,.9,1.1,1.3,1.55],[1.4,.35,.55,.75,.95,1.15,1.35],[1.2,.3,.5,.7,.9,1.1],[1,.3,.5,.7,.9],[.8,.3,.45,.7],[.6,.28,.42,.52],[.45,.3,.4],
[3.1,.45,.65,.85,1.05,1.3,1.55,1.85,2.15,2.45,2.75],[2.9,.4,.6,.8,1,1.2,1.4,1.6,1.85,2.1,2.35,2.6,2.85],[2.7,.35,.55,.75,.95,1.15,1.35,1.55,1.75,2,2.2,2.45,2.65],[2.5,.3,.5,.7,.9,1.1,1.3,1.5,1.7,1.9,2.1,2.3,2.45],[2.3,.35,.55,.75,.95,1.15,1.35,1.55,1.75,1.95,2.2],[2.1,.3,.5,.7,.9,1.1,1.3,1.5,1.7,1.9,2.05],[1.9,.35,.55,.75,.95,1.15,1.35,1.55,1.8],[1.7,.3,.5,.7,.9,1.1,1.3,1.5,1.65],[1.5,.35,.55,.75,.95,1.15,1.4],[1.3,.28,.45,.65,.85,1.05,1.2],[1.1,.35,.55,.75,1],[.9,.28,.42,.62,.82],[.7,.3,.48,.62],[.55,.32,.45],
[-.4,-.3],[-.55,-.45,-.3],[-.7,-.6,-.45,-.3],[-.85,-.75,-.6,-.45,-.3],[-1,-.9,-.75,-.6,-.45,-.3],[-1.2,-1.1,-.95,-.8,-.6,-.4,-.3],[-1.4,-1.3,-1.1,-.9,-.7,-.5,-.32],[-1.6,-1.5,-1.3,-1.1,-.9,-.7,-.5,-.35],[-1.8,-1.7,-1.5,-1.3,-1.1,-.9,-.7,-.5],[-2,-1.9,-1.7,-1.5,-1.3,-1.1,-.9,-.6],[-2.2,-2.1,-1.9,-1.7,-1.5,-1.3,-1.1,-.8,-.55],[-2.4,-2.3,-2.1,-1.9,-1.7,-1.5,-1.3,-1,-.7],[-2.6,-2.5,-2.3,-2.1,-1.9,-1.7,-1.4,-1.1,-.85],[-2.8,-2.7,-2.5,-2.3,-2.1,-1.9,-1.6,-1.2,-.8],[-3,-2.9,-2.7,-2.5,-2.3,-2,-1.6,-1.3,-1,-.7],[-3.2,-3.1,-2.9,-2.7,-2.4,-2,-1.7,-1.3,-.9,-.7],[-3.4,-3.25,-3.05,-2.8,-2.5,-2.2,-1.8,-1.5,-1.1,-.9],[-3.6,-3.4,-3.2,-2.9,-2.6,-2.3,-1.9,-1.6],[-3.8,-3.6,-3.3,-3,-2.7,-2.3,-1.9],[-4,-3.8,-3.5,-3.2,-2.9,-2.5],[-4.2,-3.9,-3.6,-3.3,-3,-2.6],[-4.4,-4,-3.7,-3.4,-3.1,-2.6],[-4.6,-4.2,-3.9,-3.5,-3.2,-2.9],[-4.8,-4.6,-4.3,-4,-3.7,-3.3],
[-1.1,-1,-.85,-.7,-.5,-.35],[-1.3,-1.2,-1,-.8,-.6,-.4],[-1.5,-1.4,-1.2,-1,-.8,-.6,-.42],[-1.7,-1.6,-1.4,-1.2,-1,-.8,-.6,-.42],[-1.9,-1.8,-1.6,-1.4,-1.2,-1,-.8,-.55],[-2.1,-2,-1.8,-1.6,-1.4,-1.2,-1,-.7],[-2.3,-2.2,-2,-1.8,-1.6,-1.4,-1.2,-.9],[-2.5,-2.4,-2.2,-2,-1.8,-1.6,-1.2,-.95],[-2.7,-2.6,-2.4,-2.2,-2,-1.75,-1.45,-1.05],[-2.9,-2.8,-2.6,-2.4,-2.15,-1.85,-1.5,-1.15],[-3.1,-3,-2.8,-2.6,-2.25,-1.85,-1.5,-1.15],[-3.3,-3.15,-2.95,-2.65,-2.35,-2,-1.65,-1.25],[-3.5,-3.3,-3.05,-2.75,-2.45,-2.1,-1.75,-1.35]];

// ---------- Panel C: C. remanei ----------
const remaneiGrayLoose=[-.1,5.45,.2,4.8,.25,4.2,-.55,4.25,-.7,4.05,-1.1,3.75,.85,4.5,-1.4,3.4,-1.3,3.15,-1.9,3.1,-2.5,2.6,-2,2.75,-2.1,2.55,-2.8,2.35,-2.75,2.15,-2.9,1.6,-3,1.4,-3.3,1.05,-3.9,.6,-4,.05,-3.45,-.4,-3.5,-.7,-4,-1.1,-3.85,-1.2,-3.6,-1.4,-3.1,-1.2,-4.3,-1.9,-4.1,-2.35,-3.8,-2.4,-3.3,-2,-4.4,-3.3,-3.9,-3.2,-3.7,-3,-3.6,-3.5,6.3,2.6,4,1.6,2.9,1,2.75,.85,2.7,.75,3.35,.3,3.3,-.35,3.4,-.35,2.3,.3,2.3,-1.4,2,-1.6,2.7,-1.85,2.85,-1.85,3.05,-2.35,3.9,-2.5,1.7,-3.2,1.55,-3.5,1.6,-3.9,1.2,-4.1,1.05,-4.3,2.05,-4.35,.4,-4.9,.4,-4.7,-.4,-6.25,-.55,-6.25,-.45,-5.7,-1.15,-5.2,-.9,-5.5,-.45,-5.3,.15,-5.1,-2.3,-5.5,-2,-5.1];
const remaneiGrayRows=[[3.7,-.1,.15],[3.45,-.4,-.2,.1,.3],[3.2,-1,-.75,-.5,-.25,0,.2],[2.95,-1.2,-.95,-.7,-.45,-.2,.05,.25],[2.7,-1.5,-1.25,-1,-.75,-.5,-.25,0,.2],[2.45,-1.8,-1.55,-1.3,-1.05,-.8,-.55,-.3,-.05,.2],[2.2,-2,-1.75,-1.5,-1.25,-1,-.75,-.5,-.25,0],[1.95,-1.85,-1.6,-1.35,-1.1,-.85,-.6,-.35,-.1,.1],[1.7,-2.2,-1.95,-1.7,-1.45,-1.2,-.95,-.7,-.45,-.2,.05],[1.45,-2.3,-2,-1.75,-1.5,-1.25,-1,-.75,-.5,-.25,0],[1.2,-2.6,-2.3,-2,-1.7,-1.45,-1.2,-.95,-.7,-.45,-.2,.05],[.95,-2.9,-2.5,-2.2,-1.9,-1.65,-1.4,-1.15,-.9,-.65,-.4,-.15,.1],[.7,-2.65,-2.35,-2.05,-1.8,-1.55,-1.3,-1.05,-.8,-.55,-.3,-.05,.15],[.45,-2.9,-2.6,-2.3,-2,-1.75,-1.5,-1.25,-1,-.75,-.5,-.25,0,.2],[.2,-3.1,-2.8,-2.5,-2.2,-1.95,-1.7,-1.45,-1.2,-.95,-.7,-.45,-.2,.05,.3,.55,.85,1.2,1.5,1.8,2],[-.05,-2.7,-2.4,-2.1,-1.85,-1.6,-1.35,-1.1,-.85,-.6,-.35,-.1,.15,.4,.65,.9,1.15,1.4,1.65,1.9,2.2],[-.3,-3.1,-2.8,-2.5,-2.2,-1.9,-1.6,-.3,-.1,.15,.4,.65,.9,1.15,1.4,1.65,1.9,2.15],[-.55,-2.9,-2.6,-2.3,-2,-1.75,-.25,0,.25,.5,.75,1,1.25,1.5,1.75,2,2.2],[-.8,-3.2,-2.9,-2.6,-2.3,-2.05,-.2,.05,.3,.55,.8,1.05,1.3,1.55,1.8,2.05],[-1.05,-3.1,-2.8,-2.5,-2.3,-.2,.05,.3,.55,.8,1.05,1.3,1.55,1.8,2,2.1],[-1.3,-3,-2.7,-2.45,-.2,.05,.3,.55,.8,1.05,1.3,1.55,1.8],[-1.55,-3.1,-2.8,-2.5,-.2,.05,.3,.55,.8,1.05,1.3,1.55,1.75],[-1.8,-3.2,-3,-.25,0,.25,.5,.75,1,1.25,1.5],[-2.05,-3.3,-.25,0,.25,.5,.75,1,1.25,1.55],[-2.3,-3.2,-.35,-.1,.15,.4,.65,.9,1.15,1.4],[-2.55,-.35,-.1,.15,.4,.65,.9,1.15,1.5],[-2.8,-.4,-.15,.1,.35,.6,.85,1.1],[-3.05,-.5,-.25,0,.25,.5,.75,1,1.3],[-3.3,-.6,-.35,-.1,.15,.4,.65,.9],[-3.55,-.65,-.4,-.15,.1,.35,.6,.85],[-3.8,-.7,-.45,-.2,.05,.3,.55],[-4.05,-.6,-.35,-.1,.15,.4],[-4.3,-.7,-.4,-.15,.1,.35],[-4.55,-.5,-.2,.1,.35],[-4.8,-.75,-.5,-.2,.1],
[3.32,-.6,-.35,-.1,.15],[3.08,-.85,-.6,-.35,-.1,.12],[2.82,-1.1,-.85,-.6,-.35,-.1,.12],[2.58,-1.4,-1.15,-.9,-.65,-.4,-.15,.1],[2.32,-1.65,-1.4,-1.15,-.9,-.65,-.4,-.15,.1],[2.08,-1.9,-1.65,-1.4,-1.15,-.9,-.65,-.4,-.15],[1.82,-2,-1.75,-1.5,-1.25,-1,-.75,-.5,-.25,0],[1.58,-2.1,-1.85,-1.6,-1.35,-1.1,-.85,-.6,-.35,-.1],[1.32,-2.15,-1.85,-1.6,-1.35,-1.1,-.85,-.6,-.35,-.1],[1.08,-2.4,-2.1,-1.8,-1.55,-1.3,-1.05,-.8,-.55,-.3,-.05],[.82,-2.5,-2.2,-1.9,-1.65,-1.42,-1.18,-.92,-.68,-.42,-.18],[.58,-2.75,-2.45,-2.15,-1.9,-1.62,-1.38,-1.12,-.88,-.62,-.38,-.12],[.32,-2.7,-2.4,-2.1,-1.85,-1.62,-1.38,-1.12,-.88,-.62,-.38,-.12,.12],[.08,-2.95,-2.6,-2.3,-2.02,-1.78,-1.52,-1.28,-1.02,-.78,-.52,-.28,-.02,.22,.48,.72,1,1.3,1.62,1.95],[-.18,-2.95,-2.65,-2.35,-2.05,-1.72,-.2,.02,.28,.52,.78,1.02,1.28,1.52,1.78,2.05,2.3],[-.42,-2.7,-2.4,-2.1,-1.85,-.18,.08,.32,.58,.82,1.08,1.32,1.58,1.82,2.1],[-.68,-2.75,-2.45,-2.15,-.12,.12,.4,.65,.9,1.15,1.4,1.65,1.9,2.15],[-.92,-2.95,-2.65,-2.4,-.1,.18,.42,.68,.92,1.18,1.42,1.68,1.92],[-1.18,-2.9,-2.6,-.1,.18,.42,.68,.92,1.18,1.42,1.68,1.92],[-1.42,-2.85,-2.6,-.1,.18,.42,.68,.92,1.18,1.42,1.68],[-1.68,-2.95,-.1,.18,.42,.68,.92,1.18,1.42,1.65],[-1.92,-.12,.12,.38,.62,.88,1.12,1.38,1.6],[-2.18,-.3,-.02,.2,.45,.7,.95,1.2,1.45],[-2.42,-.22,.02,.28,.52,.78,1.02,1.28],[-2.68,-.38,-.12,.22,.48,.72,1,1.28],[-2.92,-.42,-.18,.05,.3,.55,.78,.98],[-3.18,-.55,-.3,-.05,.2,.45,.7,.95],[-3.42,-.62,-.38,-.12,.12,.38,.62,.88],[-3.68,-.55,-.28,-.05,.22,.48,.72],[-3.92,-.62,-.38,-.15,.12,.38],[-4.18,-.5,-.25,0,.25,.45],[-4.42,-.6,-.3,-.02,.22]];
const remaneiOrangeLoose=[-.5,3.95,-1.65,3.4,-.75,3.2,-1.45,2.9,-1.3,2.8,-.7,2.85,-.45,2.85,-.9,2.65,-1.1,2.6,-.85,2.4,-1.4,2.3,-.65,2.3,-.4,2.25,-.5,2.05,-.7,2,-.8,1.9,-1.6,1.8,-1.2,1.65,-.95,1.7,-.7,1.7,-.5,1.65,-1.25,1.45,-1,1.45,-.8,1.5,-.55,1.5,-.35,1.35,-.55,1.25,-.35,1.2,-1.6,1,-.85,1,-.6,1,-.35,1.05,-1.35,.8,-.65,.85,-.35,.85,-1.5,.55,-1.05,.5,-.9,.55,-.75,.5,-1.3,.45,-.5,.55,-.4,.45,-.95,.4,-.45,.7,
6.3,4.9,4.05,.3,5,4.8,4.5,3.95,4.25,4.05,3.9,4.2,4.75,2.45,3.8,3,3.9,3.2,3.5,3.15,3.7,3.2,3.15,3.2,3.05,3,2.8,2.95,3,2.75,2.7,2.45,2.9,2.25,2.7,2.15,2.6,1.5,2.2,1.45,2.9,1.55,2.9,2,2.5,1.9,3.8,2.2,3.7,3.35,3.85,3.5,4.2,4.2,.45,-.5,.55,-.65,.65,-.55,.7,-.7,.75,-.45,.85,-.5,.8,-.7,1,-.45,.8,-1.9,1.05,-1.9,1.05,-2.35,-6.35,-4.7,-5.3,-4.5,-5.5,-5,-4.3,-3.4,-4.2,-3.95,-3.9,-3.85,-3.4,-2.8,-3,-2.85,-2.9,-2.85,-2.55,-2.3,-2.6,-2.15,-2.4,-2,-2.5,-1.8,-2.1,-1.5,-2.3,-1.3,-2,-1.2];
const remaneiOrangeRows=[[2.6,2.7,2.85],[2.4,2.5,2.65,2.8],[2.2,2.3,2.5,2.65],[2,2.1,2.3,2.45,2.6],[1.8,1.9,2.1,2.25,2.4],[1.6,1.7,1.9,2.05,2.25],[1.4,1.5,1.7,1.85,2.05],[1.2,1.3,1.5,1.65,1.85,2.05],[1,1.1,1.3,1.5,1.7,1.9],[.8,.9,1.1,1.3,1.5,1.7],[.6,.7,.9,1.1,1.3,1.5],[.4,.5,.7,.9,1.1,1.35],[-.4,-.55,-.7,-.85],[-.55,-.7,-.85,-1,-1.15,-1.3],[-.7,-.85,-1,-1.15,-1.3,-1.5,-1.85,-2],[-.85,-1,-1.15,-1.3,-1.45,-1.6],[-1,-1.15,-1.3,-1.45,-1.6,-1.75],[-1.15,-1.3,-1.45,-1.6,-1.8],[-1.3,-1.45,-1.6,-1.8,-2],[-1.5,-1.65,-1.85,-2.05,-2.2],[-1.7,-1.85,-2.05,-2.25,-2.4],[-1.9,-2.1,-2.3,-2.5],[-2.1,-2.25,-2.45,-2.7],[-2.3,-2.5,-2.7],[-2.5,-2.65,-2.85],
[1.9,2,2.2,2.35],[1.5,1.6,1.8,1.95],[1.1,1.2,1.4,1.6,1.8],[.7,.8,1,1.2,1.4,1.6],[.5,.6,.8,1,1.2],[-.62,-.78,-.92,-1.08,-1.22],[-.92,-1.08,-1.22,-1.38,-1.52],[-1.22,-1.38,-1.52,-1.7],[-1.6,-1.75,-1.95,-2.15]];
const remaneiBlueLoose=[1.85,6.15,2.1,5.65,2.65,5.6,3.4,5.45,3.5,5.2,3.3,5.25,3.7,5.9,3.95,5.8,3.7,6.4,4.85,6.35,4.85,6.1,5.2,6.05,5.95,6.3,4.1,5.5,4.5,5.45,4.8,5.35,5.1,5.5,4.65,5.2,3.7,4.95,3.95,5,4.1,4.85,4.35,4.8,3.2,4.75,1.35,4.75,1.5,4.9,3.1,4.35,3.5,4.35,3.7,4.3,3.9,4.4,4,4.4,4.15,4.35,4.25,4.1,3.1,4.2,3.4,4.15,3.6,3.95,3.9,3.9,.9,4.3,.8,4.05,1.1,4.2,1.3,4.1,1.55,4,1.9,4.15,2.3,4.2,2.6,4.1,2.8,3.75,3,3.75,3.2,3.65,1.2,3.85,1.5,3.75,1.9,3.7,2.2,3.75,2.5,3.75,
-4.4,-4.6,-4.05,-4.5,-3.85,-4.8,-3.3,-4.8,-3.3,-5.45,-4.1,-5.5,-4.3,-5.75,-4.95,-6.25,-3.2,-4.5,-3.05,-4.35,-2.8,-4.7,-2.55,-4.85,-2.1,-4.4,-1.95,-4.7,-1.9,-5,-1.65,-4.85,-1.5,-4.7,-1.2,-4.45,-1.05,-4.55,-.8,-4.65,-.55,-4.75,-.85,-4.1,-.65,-3.8,-.6,-3.4,-.65,-3.1,-1,-3.95,-1.35,-4.05,-1.35,-5.05,-1.15,-5.1,-1.05,-5.1,-.95,-5,-.8,-5.2,-1.05,-5.4,-1.7,-5.5,-.7,-5.7,-.65,-6.05,-1.6,-5.95,-2.6,-5.55,-2.85,-5.2,-2.5,-5.15,-2.15,-5.3,-2.3,-6.4,-3,-6.15,-3.15,-6.3,-2.75,-5.65];
const remaneiBlueRows=[[3.6,.6,.8,1,1.2],[3.4,.5,.7,.9,1.1,1.3,2,2.2,2.5,2.8,3,3.3],[3.2,.55,.75,.95,1.15,1.35,1.85,2.05,2.3,2.6,2.85,3.1],[3,.5,.7,.9,1.1,1.3,1.5,1.8,2,2.2,2.45,2.7,2.9],[2.8,.4,.6,.8,1,1.2,1.4,1.6,1.8,2,2.2,2.4,2.65],[2.6,.4,.6,.8,1,1.2,1.4,1.6,1.8,2,2.2,2.45],[2.4,.35,.55,.75,.95,1.15,1.35,1.55,1.75,1.95,2.2],[2.2,.3,.5,.7,.9,1.1,1.3,1.5,1.7,1.9,2.1],[2,.35,.55,.75,.95,1.15,1.35,1.55,1.75,1.9],[1.8,.3,.5,.7,.9,1.1,1.3,1.5,1.7],[1.6,.3,.5,.7,.9,1.1,1.3,1.5],[1.4,.3,.5,.7,.9,1.1,1.3],[1.2,.28,.45,.65,.85,1.05],[1,.28,.45,.65,.85],[.8,.28,.45,.65],[.6,.3,.45],[.45,.32,.4],
[3.5,.6,.75,.9,1.05,1.25,2.05,2.3,2.6,2.95,3.2],[3.3,.5,.65,.85,1.05,1.25,1.95,2.15,2.45,2.75,3],[3.1,.45,.65,.85,1.05,1.25,1.45,1.9,2.2,2.5,2.75,3],[2.9,.4,.6,.8,1,1.2,1.4,1.65,1.9,2.1,2.35,2.6,2.8],[2.7,.45,.7,.9,1.1,1.3,1.5,1.7,1.9,2.1,2.3,2.55],[2.5,.35,.5,.7,.9,1.1,1.3,1.5,1.7,1.9,2.1,2.35],[2.3,.35,.6,.8,1,1.2,1.4,1.6,1.8,2,2.2],[2.1,.3,.45,.65,.85,1.05,1.25,1.45,1.65,1.85,2],[1.9,.3,.45,.65,.85,1.05,1.25,1.45,1.65,1.8],[1.7,.35,.55,.75,.95,1.15,1.35,1.55],[1.5,.35,.55,.75,.95,1.15,1.35],[1.3,.32,.5,.7,.9,1.1],[1.1,.35,.55,.75,.95],[.9,.32,.5,.72],[.7,.32,.5],
[-.4,-.3],[-.55,-.45,-.3],[-.7,-.6,-.45,-.3],[-.85,-.75,-.6,-.45,-.3],[-1,-.9,-.75,-.6,-.45,-.32],[-1.2,-1.1,-.95,-.75,-.55,-.35],[-1.4,-1.3,-1.1,-.9,-.7,-.5,-.35],[-1.6,-1.5,-1.3,-1.1,-.9,-.7,-.5],[-1.8,-1.7,-1.5,-1.3,-1.1,-.9,-.65],[-2,-1.9,-1.7,-1.5,-1.3,-1.1,-.85,-.6],[-2.2,-2.1,-1.9,-1.7,-1.5,-1.3,-1.05,-.75],[-2.4,-2.3,-2.1,-1.9,-1.7,-1.5,-1.2,-.9],[-2.6,-2.5,-2.3,-2.1,-1.9,-1.6,-1.3,-1],[-2.8,-2.7,-2.5,-2.3,-2.05,-1.75,-1.4,-1.1,-.7],[-3,-2.9,-2.7,-2.45,-2.2,-1.9,-1.55,-1.25],[-3.2,-2.95,-2.7,-2.45,-2.15,-1.85,-1.55,-1.3],[-3.4,-3.15,-2.85,-2.55,-2.25,-1.95,-1.65],[-3.6,-3.2,-2.9,-2.6,-2.25,-1.9,-1.5,-1.2],[-3.8,-3.3,-3,-2.65,-2.3,-1.9,-1.45],[-4,-3.1,-2.75,-2.35,-2,-1.65],[-4.25,-3.35,-2.95,-2.6,-2.2],[-4.5,-3.6,-3.3,-2.95,-2.5,-2.3],[-4.75,-3.1,-2.9,-2.4,-2.2],
[-1.1,-1,-.85,-.65,-.45],[-1.3,-1.2,-1,-.8,-.6,-.42],[-1.5,-1.4,-1.2,-1,-.8,-.6],[-1.7,-1.6,-1.4,-1.2,-1,-.8,-.6],[-1.9,-1.8,-1.6,-1.4,-1.2,-1,-.75],[-2.1,-2,-1.8,-1.6,-1.4,-1.2,-.95],[-2.3,-2.2,-2,-1.8,-1.6,-1.4,-1.1],[-2.5,-2.4,-2.2,-2,-1.75,-1.45,-1.15],[-2.7,-2.6,-2.4,-2.2,-1.9,-1.6,-1.25],[-2.9,-2.8,-2.6,-2.3,-2,-1.65,-1.35],[-3.1,-2.85,-2.6,-2.3,-2,-1.7,-1.45],[-3.3,-3,-2.7,-2.4,-2.1,-1.8]];

// ---------- Panel D: C. brenneri ----------
const brenneriGrayLoose=[-.55,-4.45,1.5,4.5,1,4.3,.9,4.1,1.9,4.5,-.4,3.5,-.95,3.5,-.6,3.45,-.9,3.25,-1.2,3.3,-1.5,2.85,-1.5,2.6,-2,2.5,-2.3,2.15,-2.5,2.15,-4.05,1.7,-2.9,1.5,-2.65,1.5,-2.1,1.55,-3.4,1.25,-3.6,.85,-3.05,.65,-3.45,.45,-3,.3,-3.2,.05,-3.1,-.2,-3.7,-.75,-3.45,-.95,-3.2,-.75,-3.9,-.85,-3.9,-1.5,-3.75,-1.55,-4,-1.5,-2.9,-1,-3.3,-1.3,-2.9,-1.45,-3.65,-1.7,-3,-2,2.6,.6,3.2,.85,3,.8,3.3,1.5,3.6,1.45,3.9,1.6,4.1,1.55,4.4,.85,3.05,1.1,2.9,1.05,3.1,.5,3.2,.1,3.05,-.05,3.25,-.45,3.4,-.4,3.5,-1.15,2.6,-.85,2.75,-1.45,2.9,-1.5,2.3,-2,1.9,-2.1,1.6,-2.4,1.5,-2.8,1.3,-3.1,1.05,-3.9,1.5,-3.6,-.6,-4.05,-.9,-4.05,-.3,-3.9,.2,-4,.6,-4,.75,-3.7,-1.25,-3.9,-1.4,-3.9];
const brenneriGrayRows=[[3.4,-.3,0,.25],[3.15,-.55,-.3,-.05,.2],[2.9,-.8,-.55,-.3,-.05,.2],[2.65,-1.15,-.9,-.65,-.4,-.15,.1],[2.4,-1.5,-1.25,-1,-.8,-.55,-.3,-.05,.2],[2.15,-1.75,-1.5,-1.2,-.95,-.7,-.45,-.2,.05],[1.9,-2,-1.7,-1.45,-1.2,-.95,-.7,-.45,-.2,.05],[1.65,-2.3,-2,-1.75,-1.5,-1.25,-1,-.75,-.5,-.25,0],[1.4,-2.1,-1.85,-1.6,-1.35,-1.1,-.85,-.6,-.35,-.1],[1.15,-2.4,-2.15,-1.9,-1.65,-1.4,-1.15,-.9,-.65,-.4,-.15,.1,2.2,2.5],[.9,-2.6,-2.3,-2,-1.75,-1.5,-1.25,-1,-.75,-.5,-.25,0,2,2.3,2.6],[.65,-2.8,-2.5,-2.2,-1.95,-1.7,-1.45,-1.2,-.95,-.7,-.45,-.2,.05,2,2.3],[.4,-2.6,-2.3,-2,-1.75,-1.5,-1.25,-1,-.75,-.5,-.25,0,1.4,1.7,2,2.3,2.6],[.15,-2.85,-2.55,-2.25,-2,-1.75,-1.5,-1.25,-1,-.75,-.5,-.25,0,.25,.5,.75,1,1.25,1.5,1.75,2,2.25,2.6],[-.1,-2.6,-2.3,-2.05,-1.8,-1.55,-1.3,-1.05,-.8,-.55,-.3,-.05,.2,.45,.7,.95,1.2,1.45,1.7,1.95,2.2,2.5,2.75],[-.35,-2.75,-2.45,-2.2,-1.95,-1.7,-1.45,-1.2,-.95,-.7,-.45,-.2,.05,.3,.55,.8,1.05,1.3,1.55,1.8,2.05,2.3,2.6],[-.6,-2.5,-2.25,-2,-1.75,-.25,0,.25,.5,.75,1,1.25,1.5,1.75,2,2.25,2.5],[-.85,-2.7,-2.4,-2.15,-1.9,-.2,.05,.3,.55,.8,1.05,1.3,1.55,1.8,2.05,2.3],[-1.1,-2.55,-2.3,-2.05,-.2,.05,.3,.55,.8,1.05,1.3,1.55,1.8,2.05,2.3],[-1.35,-2.7,-2.4,-2.2,-.2,.05,.3,.55,.8,1.05,1.3,1.55,1.8,2.1],[-1.6,-3,-2.7,-2.45,-.2,.05,.3,.55,.8,1.05,1.3,1.55,1.8,2.1],[-1.85,-2.9,-.3,-.05,.2,.45,.7,.95,1.2,1.45,1.7,1.95],[-2.1,-.3,-.05,.2,.45,.7,.95,1.2,1.45,1.7],[-2.35,-.5,-.25,0,.25,.5,.75,1,1.25,1.5],[-2.6,-.5,-.25,0,.25,.5,.75,1,1.25],[-2.85,-.65,-.4,-.15,.1,.35,.6,.85,1.1],[-3.1,-.9,-.65,-.4,-.15,.1,.35,.6,.85],[-3.35,-1.15,-.9,-.6,-.35,-.1,.15,.4,.7],[-3.6,-1.3,-1,-.75,-.5,-.25,0,.3],[-3.85,-1.4,-1.1,-.8,-.4,-.1],
[3.28,-.42,-.18,.12],[3.02,-.68,-.42,-.18,.08],[2.78,-1,-.72,-.42,-.18,.08],[2.52,-1.32,-1.08,-.78,-.52,-.28,-.02],[2.28,-1.62,-1.38,-1.1,-.88,-.62,-.38,-.12,.12],[2.02,-1.88,-1.6,-1.32,-1.08,-.82,-.58,-.32,-.08],[1.78,-2.15,-1.85,-1.6,-1.35,-1.1,-.85,-.6,-.35,-.12],[1.52,-2.2,-1.95,-1.7,-1.45,-1.2,-.95,-.7,-.45,-.2],[1.28,-2.25,-2,-1.75,-1.5,-1.25,-1,-.75,-.5,-.25,0],[1.02,-2.5,-2.22,-1.98,-1.72,-1.48,-1.22,-.98,-.72,-.48,-.22,0,2.35,2.7],[.78,-2.45,-2.15,-1.88,-1.62,-1.38,-1.12,-.88,-.62,-.38,-.12,.08,2.15,2.45],[.52,-2.7,-2.42,-2.12,-1.85,-1.6,-1.35,-1.1,-.85,-.6,-.35,-.1,1.55,1.85,2.15,2.45],[.28,-2.75,-2.45,-2.15,-1.88,-1.62,-1.38,-1.12,-.88,-.62,-.38,-.12,.12,1.05,1.35,1.65,1.95,2.45],[.02,-2.72,-2.42,-2.15,-1.9,-1.65,-1.4,-1.15,-.9,-.65,-.4,-.15,.12,.38,.62,.88,1.12,1.38,1.62,1.88,2.12,2.4,2.65],[-.22,-2.9,-2.55,-2.3,-2.05,-1.8,-1.55,-1.3,-1.05,-.8,-.55,-.3,-.08,.18,.42,.68,.92,1.18,1.42,1.68,1.92,2.2,2.45,2.8],[-.48,-2.65,-2.35,-2.1,-1.85,-.32,-.08,.18,.42,.68,.92,1.18,1.42,1.68,1.92,2.18,2.42],[-.72,-2.6,-2.32,-2.08,-1.82,-.12,.12,.38,.62,.88,1.12,1.38,1.62,1.88,2.12,2.38],[-.98,-2.55,-2.25,-2,-.08,.18,.42,.68,.92,1.18,1.42,1.68,1.92,2.18,2.42],[-1.22,-2.6,-2.35,-2.15,-.08,.18,.42,.68,.92,1.18,1.42,1.68,1.95,2.2],[-1.48,-2.85,-2.55,-2.3,-.08,.18,.42,.68,.92,1.18,1.42,1.68,1.95],[-1.72,-2.8,-2.55,-.25,-.02,.12,.38,.62,.88,1.12,1.38,1.62,1.88],[-1.98,-.18,.08,.32,.58,.82,1.08,1.32,1.58,1.82],[-2.22,-.4,-.18,.08,.32,.58,.82,1.08,1.32,1.58],[-2.48,-.38,-.12,.12,.38,.62,.88,1.12,1.38],[-2.72,-.58,-.32,-.08,.18,.42,.68,.92,1.18],[-2.98,-.78,-.52,-.28,-.02,.22,.48,.72,.98],[-3.22,-1.02,-.78,-.52,-.28,-.02,.28,.52,.78],[-3.48,-1.22,-.95,-.72,-.48,-.22,.02,.28,.55],[-3.72,-1.05,-.82,-.58,-.32,-.08,.18]];
const brenneriOrangeLoose=[5.85,4.25,4.25,3.65,4.2,2.9,3.75,2.35,4.05,2.2,3.45,2.9,3.05,3,2.9,3.05,2.75,2.5,2.95,2.55,2.55,2.6,2.65,2.3,2.6,1.7,2.1,1.2,2.7,.95,2.7,1.4,2.6,1.15,2.35,1.35,-.5,2.45,-.55,2.25,-.5,2,-1.25,2,-.55,1.9,-.85,1.75,-1.05,1.7,-.65,1.7,-.4,1.65,-.85,1.5,-.55,1.45,-.4,1.45,-1.15,1.3,-.75,1.3,-.5,1.3,-1.35,1.2,-.95,1.2,-.65,1.15,-.45,1.1,-.4,1,-.55,.95,-.65,.9,-.45,.8,-.55,.7,-.4,.55,-.6,.55,-.8,.6,-1,.55,-1.4,.6,-.95,.45,-.75,.4,-.55,.35,-.45,.45,
.4,-.55,.45,-.7,.55,-.65,.65,-.8,.55,-1,.75,-1.1,.7,-1.3,.4,-.85,.5,-1.3,.55,-1.4,.75,-1.4,.8,-1.5,.9,-1.5,.95,-1.65,1.15,-1.5,.7,-.8,1.55,-1.6,1.35,-1.75,1.35,-1.8,.75,-2.2,.75,-2.3,2.25,-.75,-1.4,-.5,-1.9,-.5,-1.1,-.5,-2.4,-1.2,-2.2,-1.2,-2.35,-1.5,-2,-1.35,-1.85,-1.1,-3,-2.05,-2.95,-2.2,-3,-2.3,-2.7,-2,-2.6,-2.2,-2.4,-2.3,-2.4,-2.45,-2.7,-2.6,-3.4,-2.3,-3.4,-2.65,-3.25,-2.65,-3.2,-3,-2.75,-2.55,-3.6,-3.15,-3.5,-3.3,-4.85,-4.35];
const brenneriOrangeRows=[[2.2,2.25,2.4,2.5,2.6],[2,2.1,2.25,2.4],[1.8,1.9,2.05,2.2],[1.6,1.7,1.85,2],[1.4,1.5,1.65,1.8,1.95],[1.2,1.3,1.45,1.6,1.75],[1,1.1,1.25,1.4,1.55],[.8,.9,1.05,1.2,1.4],[.6,.65,.8,.95,1.1,1.3],[.45,.5,.65,.8,.95,1.1],[.35,.45,.6,.8],[-.4,-.55,-.7],[-.55,-.7,-.85,-1],[-.7,-.85,-1,-1.15,-1.3],[-.85,-1,-1.15,-1.3,-1.45],[-1,-1.15,-1.3,-1.45,-1.6],[-1.15,-1.3,-1.45,-1.6],[-1.3,-1.45,-1.6,-1.75],[-1.45,-1.6,-1.75,-1.9],[-1.6,-1.75,-1.9,-2.05],[-1.75,-1.9,-2.05,-2.2,-2.5],[-1.9,-2.05,-2.2,-2.35,-2.7],[-2.05,-2.2,-2.35],[-2.2,-2.35,-2.5]];
const brenneriBlueLoose=[5.3,6.3,2.6,5.85,3,5.6,2.9,5.45,1.7,5.6,1.3,5.25,3.65,5.3,3.6,5.1,4.3,5.65,4.2,5.1,4.05,5,4.4,4.9,4.6,4.85,3.45,4.7,3.7,4.6,3.85,4.75,4.5,4.6,2,4.5,2.6,4.45,2.7,4.35,2.9,4.4,3.75,4.15,3.9,4.2,4.1,4.25,3.85,4.05,3.65,4,.6,4.1,.35,3.85,2.05,4.05,1.95,3.7,1.9,4.05,3,4.05,3.15,4.05,2.9,3.9,3.25,3.85,3.4,3.9,3.5,3.95,3.05,3.65,3.2,3.45,3.35,3.35,3.5,3.3,.9,3.55,1.25,3.4,1.85,3.55,2.2,3.35,2.45,3.35,2.7,3.3,
-.6,-2.65,-.7,-2.75,-1.1,-3,-.9,-3,-1.6,-2.9,-1.75,-2.85,-2.05,-2.7,-2.25,-3,-2.3,-3.4,-2.4,-3.15,-2.65,-3.1,-2.55,-3.6,-3,-3.25,-3.2,-3.5,-2.9,-3.65,-2.7,-3.5,-3,-3.6,-1.5,-3.25,-1.4,-3.4,-1.15,-3.55,-.9,-3.3,-.75,-3.3,-1.2,-3.2,-1.85,-3.5,-1.55,-3.85,-1.85,-4.05,-1.6,-4.1,-2.6,-4.1,-3.7,-3.9,-3.8,-4,-3.5,-4.15,-3.45,-4.2,-3,-4.45,-2.6,-4.4,-2.8,-4.65,-4.2,-4.6,-3.85,-4.8,-4.65,-5.15,-4.6,-5.25,-4.5,-5.35,-4.25,-5.4];
const brenneriBlueRows=[[3.3,.55,.7,.85,1,1.4,1.75,2.05,2.3,2.55,2.75,2.95],[3.1,.5,.65,.8,.95,1.1,1.5,1.7,1.9,2.1,2.3,2.5,2.7,2.9],[2.9,.5,.65,.8,.95,1.1,1.25,1.55,1.75,1.95,2.15,2.35,2.55,2.75],[2.7,.55,.7,.85,1,1.15,1.3,1.45,1.65,1.85,2.05,2.25,2.45,2.6],[2.5,.4,.55,.7,.85,1,1.15,1.3,1.45,1.6,1.8,2,2.2,2.4],[2.3,.35,.5,.65,.8,.95,1.1,1.25,1.4,1.55,1.75,1.95,2.15,2.25],[2.1,.35,.5,.65,.8,.95,1.1,1.25,1.4,1.55,1.75,1.95,2.05],[1.9,.35,.5,.65,.8,.95,1.1,1.25,1.4,1.55,1.7,1.85],[1.7,.35,.5,.65,.8,.95,1.1,1.25,1.4,1.55,1.65],[1.5,.3,.45,.6,.75,.9,1.05,1.2,1.35,1.45],[1.3,.3,.45,.6,.75,.9,1.05,1.2],[1.1,.3,.45,.6,.75,.9,1.05],[.9,.3,.45,.6,.75,.85],[.75,.3,.45,.6,.7],[.6,.3,.42,.55],[.45,.32,.4],
[3.2,.55,.75,.9,1.05,1.6,1.85,2.15,2.45,2.65,2.85],[3,.48,.7,.85,1,1.2,1.6,1.85,2.05,2.25,2.45,2.65,2.8],[2.8,.55,.72,.9,1.05,1.2,1.4,1.65,1.85,2.05,2.25,2.45,2.65],[2.6,.48,.62,.78,.92,1.08,1.22,1.38,1.55,1.75,1.95,2.15,2.35,2.5],[2.4,.42,.58,.72,.88,1.02,1.18,1.32,1.48,1.68,1.88,2.08,2.3],[2.2,.42,.58,.72,.88,1.02,1.18,1.32,1.48,1.65,1.85,2.05],[2,.42,.58,.72,.88,1.02,1.18,1.32,1.48,1.65,1.85],[1.8,.42,.58,.72,.88,1.02,1.18,1.32,1.48,1.62,1.72],[1.6,.38,.52,.68,.82,.98,1.12,1.28,1.42,1.52],[1.4,.38,.52,.68,.82,.98,1.12,1.28],[1.2,.38,.52,.68,.82,.98,1.12],[1,.38,.52,.68,.82],[.82,.38,.52,.68],[.68,.38,.52],
[-.4,-.3],[-.55,-.45,-.3],[-.7,-.6,-.45,-.3],[-.85,-.75,-.6,-.45,-.3],[-1,-.9,-.75,-.6,-.45,-.3],[-1.15,-1.05,-.9,-.75,-.6,-.45,-.32],[-1.3,-1.2,-1.05,-.9,-.75,-.6,-.45,-.35],[-1.45,-1.35,-1.2,-1.05,-.9,-.75,-.6,-.42],[-1.6,-1.5,-1.35,-1.2,-1.05,-.9,-.75,-.5],[-1.75,-1.65,-1.5,-1.35,-1.2,-1.05,-.85,-.55],[-1.9,-1.8,-1.65,-1.5,-1.35,-1.2,-1,-.75],[-2.05,-1.95,-1.8,-1.65,-1.5,-1.35,-1.15,-.9,-.7],[-2.2,-2.1,-1.95,-1.8,-1.65,-1.45,-1.25,-1,-.75],[-2.35,-2.25,-2.1,-1.95,-1.8,-1.6,-1.35,-1.1,-.85,-.6],[-2.5,-2.4,-2.25,-2.05,-1.85,-1.6,-1.35,-1.1,-.85,-.6],[-2.65,-2.55,-2.4,-2.15,-1.9,-1.6,-1.35],
[-1.08,-.98,-.82,-.68,-.52,-.38],[-1.38,-1.28,-1.12,-.98,-.82,-.68,-.52],[-1.68,-1.58,-1.42,-1.28,-1.12,-.98,-.82,-.62],[-1.98,-1.88,-1.72,-1.58,-1.42,-1.28,-1.08,-.85],[-2.28,-2.18,-2.02,-1.88,-1.72,-1.52,-1.3,-1.05,-.8],[-2.58,-2.48,-2.3,-2.1,-1.85,-1.6,-1.35,-1.1,-.85]];

// ---------- helpers ----------
const pairs=f=>{const o=[];for(let i=0;i<f.length;i+=2)o.push({x:f[i],y:f[i+1]});return o;};
const fromRows=r=>r.flatMap(row=>row.slice(1).map(x=>({x,y:row[0]})));
const merge=(loose,rows)=>pairs(loose).concat(fromRows(rows));

const frame={id:'frame',afterDatasetsDraw(c,_,o){const a=c.chartArea,g=c.ctx;g.save();g.strokeStyle=o.color;g.lineWidth=o.width;g.strokeRect(a.left,a.top,a.right-a.left,a.bottom-a.top);g.restore();}};

function panel(cfg){
  const cv=document.createElement('canvas');
  cv.width=cfg.w;cv.height=cfg.h;
  cv.style.cssText=`left:${cfg.left}px;top:${cfg.top}px;width:${cfg.w}px;height:${cfg.h}px`;
  document.body.appendChild(cv);
  const mk=(lab,data,bg,bd,ord)=>({label:lab,data,order:ord,showLine:false,pointRadius:cfg.r,pointHoverRadius:cfg.r,backgroundColor:bg,borderColor:bd,borderWidth:bd==='transparent'?0:cfg.bw,clip:true});
  const line=(lab,xs,ys,col,w,dash)=>({label:lab,order:1,showLine:true,pointRadius:0,borderColor:col,borderWidth:w,borderDash:dash,data:xs.map((x,i)=>({x,y:ys[i]}))});
  const tick=(labels,font,tl,pad,color,extra)=>({
    type:'linear',min:-6.47,max:6.47,
    afterBuildTicks:s=>{s.ticks=tickValues.map(v=>({value:v}));},
    grid:{display:true,drawOnChartArea:false,drawTicks:true,tickLength:tl,tickColor:color,tickWidth:1.2},
    border:{display:true,color:color,width:cfg.frameW},
    ticks:Object.assign({autoSkip:false,font:{family:'"Liberation Sans"',size:font},color:'#000',padding:pad,callback:(v)=>labels[tickValues.indexOf(v)]},extra)
  });
  new Chart(cv,{type:'scatter',plugins:[frame],data:{datasets:[
    line('Diagonal',diagonalEnds,diagonalEnds,cfg.diag,cfg.lw,[]),
    line('Zero mRNA',axisZero,diagonalEnds,cfg.dash,cfg.lw,cfg.dashes),
    line('Zero RPF',diagonalEnds,axisZero,cfg.dash,cfg.lw,cfg.dashes),
    mk('Concordant',cfg.blue,cfg.blueFill,cfg.blueEdge,3),
    mk('Discordant',cfg.orange,cfg.orangeFill,cfg.orangeEdge,4),
    mk('Not significant',cfg.gray,cfg.grayFill,'transparent',5)
  ]},options:{responsive:false,animation:false,events:[],
    layout:{padding:{top:cfg.plot[1],right:cfg.w-cfg.plot[2],bottom:0,left:0}},
    plugins:{legend:{display:false},tooltip:{enabled:false},title:{display:false},frame:{color:cfg.frameColor,width:cfg.frameW}},
    scales:{
      x:Object.assign(tick(cfg.labels,cfg.xFont,cfg.xTick,cfg.xPad,cfg.tickColor,{maxRotation:0,minRotation:0}),{afterFit:s=>{s.height=cfg.h-cfg.plot[3];}}),
      y:Object.assign(tick(cfg.labels,cfg.yFont,cfg.yTick,cfg.yPad,cfg.tickColor,{minRotation:90,maxRotation:90,crossAlign:'center'}),{afterFit:s=>{s.width=cfg.plot[0];}})
    }}});
}
const smallStyle={r:2.8,bw:.6,lw:1,diag:'#444',dash:'#555',dashes:[2,2.5],frameColor:'#97908a',frameW:1.6,tickColor:'#8a8480',xFont:26,yFont:26,xTick:7,yTick:9,xPad:3,yPad:1,w:420,h:420,top:1060,labels:tickLabelsSmall,
  grayFill:'rgb(206,206,206)',orangeFill:'rgba(190,130,35,.55)',orangeEdge:'rgba(110,90,50,.8)',blueFill:'rgba(50,95,150,.6)',blueEdge:'rgba(60,75,100,.7)'};
panel({left:0,top:0,w:1208,h:1040,plot:[181,53,1079,887],r:7,bw:1.3,lw:2,diag:'#111',dash:'#222',dashes:[7,7],frameColor:'#2c2522',frameW:2,tickColor:'#2c2522',xFont:70,yFont:68,xTick:16,yTick:17,xPad:12,yPad:6,labels:tickLabelsA,
  gray:merge(elegansGrayLoose,elegansGrayRows),orange:merge(elegansOrangeLoose,elegansOrangeRows),blue:merge(elegansBlueLoose,elegansBlueRows),
  grayFill:'rgb(203,203,203)',orangeFill:'rgba(195,130,25,.48)',orangeEdge:'rgba(80,70,50,.85)',blueFill:'rgba(30,90,170,.46)',blueEdge:'rgba(45,60,85,.8)'});
panel(Object.assign({},smallStyle,{left:0,plot:[78,50,414,362],gray:merge(briggsaeGrayLoose,briggsaeGrayRows),orange:merge(briggsaeOrangeLoose,briggsaeOrangeRows),blue:merge(briggsaeBlueLoose,briggsaeBlueRows)}));
panel(Object.assign({},smallStyle,{left:410,plot:[66,50,402,362],gray:merge(remaneiGrayLoose,remaneiGrayRows),orange:merge(remaneiOrangeLoose,remaneiOrangeRows),blue:merge(remaneiBlueLoose,remaneiBlueRows)}));
panel(Object.assign({},smallStyle,{left:810,plot:[65,50,401,362],gray:merge(brenneriGrayLoose,brenneriGrayRows),orange:merge(brenneriOrangeLoose,brenneriOrangeRows),blue:merge(brenneriBlueLoose,brenneriBlueRows)}));

// ---------- text ----------
function txt(s,x,y,size,opts={}){
  const d=document.createElement('div');d.className='t';d.innerHTML=s;
  const ax=opts.align==='right'?'-100%':opts.align==='center'?'-50%':'0';
  d.style.cssText+=`left:${x}px;top:${y}px;font-size:${size}px;line-height:1;transform:translate(${ax},-50%) ${opts.rot?'rotate(-90deg)':''};`+(opts.css||'');
  document.body.appendChild(d);return d;
}
const bold='font-weight:bold;';
txt('A',8,21,32,{css:bold});txt('B',10,1077,29,{css:bold});txt('C',424,1077,29,{css:bold});txt('D',828,1077,29,{css:bold});txt('E',11,1479,29,{css:bold});
txt(species[0],622,26,31.5,{align:'center',css:'font-style:italic;'});
txt(species[1],241,1088,31.5,{align:'center',css:'font-style:italic;'});
txt(species[2],642,1088,31.5,{align:'center',css:'font-style:italic;'});
txt(species[3],1032,1088,31.5,{align:'center',css:'font-style:italic;'});
txt('Log(2) Fold Change: mRNA',620,1012,31.6,{align:'center'});
txt('Log(2) Fold Change: RPFs',59,462,31.6,{align:'center',rot:true});
const arrowCss='font-family:"DejaVu Sans";font-weight:bold;';
function note(a,b,leftA,yA,leftB,yB,arrowX,arrow1,arrow2){
  txt(a,leftA,yA,49.5);txt(b,leftB,yB,49.5);
  const m=txt(arrow1,arrowX,yA,48,{align:'center',css:arrowCss});m.style.transform+=' scale(.85,1.4)';
  const n=txt(arrow2,arrowX,yB,48,{align:'center',css:arrowCss});n.style.transform+=' scale(.85,1.4)';
}
note('[mRNA]','translation',248,87,187,139,433,'↓','↑');
note('[mRNA]','translation',713,84,651,134,913,'↑','↑');
note('[mRNA]','translation',869,521,809,572,1053,'↑','↓');
note('[mRNA]','translation',405,800,336,850,603,'↓','↓');
txt(`<span style="color:#c8a866">Discordant</span> = ${discordant[0]}`,1071,796,31.5,{align:'right'});
txt(`<span style="color:#5f8cc9">Concordant</span> = ${concordant[0]}`,1069,835,31.5,{align:'right'});

// table E
const colX=[127,322,516,710,908,1105];
const rowY=[1571,1605,1639,1672];
const tf='font-family:"DejaVu Sans";';
tableHeaders.forEach((h,i)=>txt(h,colX[i],1535,26.4,{align:'center',css:tf+bold}));
species.forEach((s,r)=>{
  txt(s,r<2?125:127,rowY[r],26.2,{align:'center',css:tf+'font-style:italic;'});
  [concordant,discordant,notSignif,ratioCD,pValues].forEach((col,i)=>txt(col[r],colX[i+1]+(i==0?-2:1),rowY[r],i==4?26.5:25.2,{align:'center',css:tf}));
});
for(const [y,h] of [[1516,3],[1553,4]]){const l=document.createElement('div');l.style.cssText=`position:absolute;left:46px;width:1126px;top:${y}px;height:${h}px;background:#000`;document.body.appendChild(l);}
</script></body></html>
